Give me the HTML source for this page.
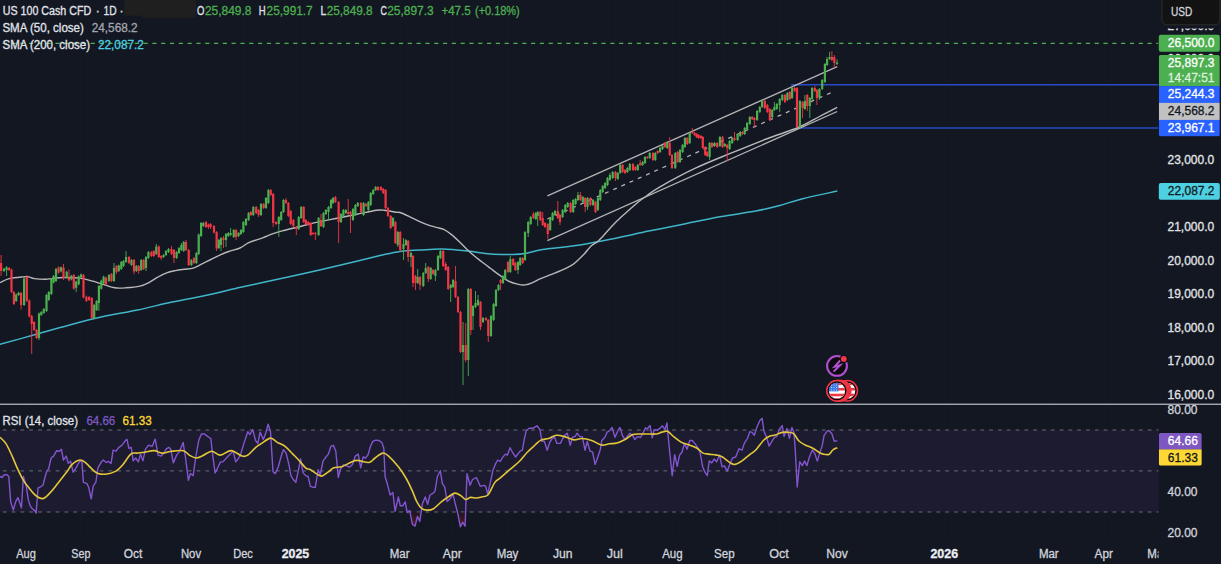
<!DOCTYPE html><html><head><meta charset="utf-8"><style>
html,body{margin:0;padding:0;background:#131722;width:1221px;height:564px;overflow:hidden;}
svg{display:block;font-family:"Liberation Sans",sans-serif;}
</style></head><body>
<svg width="1221" height="564" viewBox="0 0 1221 564">
<rect x="0" y="0" width="1221" height="564" fill="#131722"/>
<line x1="26.5" y1="0" x2="26.5" y2="540" stroke="#151924" stroke-width="1"/>
<line x1="80.5" y1="0" x2="80.5" y2="540" stroke="#151924" stroke-width="1"/>
<line x1="134.5" y1="0" x2="134.5" y2="540" stroke="#151924" stroke-width="1"/>
<line x1="190.5" y1="0" x2="190.5" y2="540" stroke="#151924" stroke-width="1"/>
<line x1="244.5" y1="0" x2="244.5" y2="540" stroke="#151924" stroke-width="1"/>
<line x1="296.5" y1="0" x2="296.5" y2="540" stroke="#151924" stroke-width="1"/>
<line x1="400.5" y1="0" x2="400.5" y2="540" stroke="#151924" stroke-width="1"/>
<line x1="452.5" y1="0" x2="452.5" y2="540" stroke="#151924" stroke-width="1"/>
<line x1="507.5" y1="0" x2="507.5" y2="540" stroke="#151924" stroke-width="1"/>
<line x1="561.5" y1="0" x2="561.5" y2="540" stroke="#151924" stroke-width="1"/>
<line x1="615.5" y1="0" x2="615.5" y2="540" stroke="#151924" stroke-width="1"/>
<line x1="672.5" y1="0" x2="672.5" y2="540" stroke="#151924" stroke-width="1"/>
<line x1="724.5" y1="0" x2="724.5" y2="540" stroke="#151924" stroke-width="1"/>
<line x1="779.5" y1="0" x2="779.5" y2="540" stroke="#151924" stroke-width="1"/>
<line x1="837.5" y1="0" x2="837.5" y2="540" stroke="#151924" stroke-width="1"/>
<line x1="944.5" y1="0" x2="944.5" y2="540" stroke="#151924" stroke-width="1"/>
<line x1="1049.5" y1="0" x2="1049.5" y2="540" stroke="#151924" stroke-width="1"/>
<line x1="1104.5" y1="0" x2="1104.5" y2="540" stroke="#151924" stroke-width="1"/>
<rect x="0" y="430" width="1158.5" height="82" fill="#1c1b2f"/>
<line x1="0" y1="430" x2="1158.5" y2="430" stroke="#6a6d78" stroke-width="1" stroke-dasharray="3.8 5.007" stroke-dashoffset="6"/>
<line x1="0" y1="470.9" x2="1158.5" y2="470.9" stroke="#6a6d78" stroke-width="1" stroke-dasharray="3.8 5.007" stroke-dashoffset="6"/>
<line x1="0" y1="512" x2="1158.5" y2="512" stroke="#6a6d78" stroke-width="1" stroke-dasharray="3.8 5.007" stroke-dashoffset="6"/>
<defs><clipPath id="mc"><rect x="0" y="0" width="1158.5" height="404"/></clipPath>
<clipPath id="rc"><rect x="0" y="405" width="1158.5" height="135"/></clipPath></defs>
<g clip-path="url(#mc)">
<line x1="0" y1="43.3" x2="1158.5" y2="43.3" stroke="#4caf50" stroke-width="1.2" stroke-dasharray="4.2 4.607" stroke-dashoffset="6.2"/>
<line x1="791" y1="84.8" x2="1158.5" y2="84.8" stroke="#2a4ac6" stroke-width="1.5"/>
<line x1="797" y1="127.9" x2="1158.5" y2="127.9" stroke="#2a4ac6" stroke-width="1.5"/>
<path d="M0,344.4 C5.73,342.8 22.93,338 34.4,334.8 C45.87,331.6 57.33,328.23 68.8,325.2 C80.27,322.17 91.73,319.13 103.2,316.6 C114.67,314.07 126.13,312.42 137.6,310 C149.07,307.58 160.53,304.57 172,302.1 C183.47,299.63 194.93,297.67 206.4,295.2 C217.87,292.73 229.33,289.87 240.8,287.3 C252.27,284.73 263.73,282.32 275.2,279.8 C286.67,277.28 298.13,274.78 309.6,272.2 C321.07,269.62 332.27,267.07 344,264.3 C355.73,261.53 370.67,257.75 380,255.6 C389.33,253.45 393.33,252.33 400,251.4 C406.67,250.47 412.97,250.4 420,250 C427.03,249.6 434.23,248.83 442.2,249 C450.17,249.17 459.77,250.17 467.8,251 C475.83,251.83 482.87,253.43 490.4,254 C497.93,254.57 507.22,254.48 513,254.4 C518.78,254.32 520.6,254.25 525.1,253.5 C529.6,252.75 535.8,250.72 540,249.9 C544.2,249.08 543.63,249.42 550.3,248.6 C556.97,247.78 569.32,246.68 580,245 C590.68,243.32 602.93,240.82 614.4,238.5 C625.87,236.18 637.33,233.48 648.8,231.1 C660.27,228.72 671.33,226.6 683.2,224.2 C695.07,221.8 707.88,218.9 720,216.7 C732.12,214.5 746.1,212.82 755.9,211 C765.7,209.18 771.17,207.82 778.8,205.8 C786.43,203.78 791.95,201.35 801.7,198.9 C811.45,196.45 831.37,192.4 837.3,191.1" fill="none" stroke="#3fb6c9" stroke-width="1.5"/>
<path d="M0,282.6 C1.53,281.93 5.38,279.55 9.2,278.6 C13.02,277.65 19.65,277.18 22.9,276.9 C26.15,276.62 26.78,276.62 28.7,276.9 C30.62,277.18 31.53,278.22 34.4,278.6 C37.27,278.98 43.03,279.2 45.9,279.2 C48.77,279.2 48.73,278.88 51.6,278.6 C54.47,278.32 58.32,277.58 63.1,277.5 C67.88,277.42 75.53,277.53 80.3,278.1 C85.07,278.67 87.88,279.85 91.7,280.9 C95.52,281.95 99.37,283.25 103.2,284.4 C107.03,285.55 110.88,287.23 114.7,287.8 C118.52,288.37 121.88,288.08 126.1,287.8 C130.32,287.52 136.2,286.97 140,286.1 C143.8,285.23 145.95,284.08 148.9,282.6 C151.85,281.12 154.75,278.83 157.7,277.2 C160.65,275.57 163.63,273.9 166.6,272.8 C169.57,271.7 172.55,271.18 175.5,270.6 C178.45,270.02 181.35,269.7 184.3,269.3 C187.25,268.9 190.23,269.1 193.2,268.2 C196.17,267.3 199.15,265.35 202.1,263.9 C205.05,262.45 207.95,260.97 210.9,259.5 C213.85,258.03 216.83,256.43 219.8,255.1 C222.77,253.77 225.33,252.68 228.7,251.5 C232.07,250.32 236.65,249.47 240,248 C243.35,246.53 245.03,244.4 248.8,242.7 C252.57,241 258.67,239.27 262.6,237.8 C266.53,236.33 269.13,235.05 272.4,233.9 C275.67,232.75 277.95,232.05 282.2,230.9 C286.45,229.75 292,228.47 297.9,227 C303.8,225.53 311.03,223.57 317.6,222.1 C324.17,220.63 330.75,219.52 337.3,218.2 C343.85,216.88 350.35,215.52 356.9,214.2 C363.45,212.88 372.02,210.95 376.6,210.3 C381.18,209.65 381.13,209.97 384.4,210.3 C387.67,210.63 393.6,211.93 396.2,212.3 C398.8,212.67 397.87,211.83 400,212.5 C402.13,213.17 405.98,214.92 409,216.3 C412.02,217.68 415.08,219.42 418.1,220.8 C421.12,222.18 424.08,223.52 427.1,224.6 C430.12,225.68 433.43,226.5 436.2,227.3 C438.97,228.1 441.2,228.22 443.7,229.4 C446.2,230.58 448.68,232.43 451.2,234.4 C453.72,236.37 456.28,238.82 458.8,241.2 C461.32,243.58 463.8,246.32 466.3,248.7 C468.8,251.08 471.28,253.37 473.8,255.5 C476.32,257.63 478.63,259.37 481.4,261.5 C484.17,263.63 487.38,266.03 490.4,268.3 C493.42,270.57 496.48,272.97 499.5,275.1 C502.52,277.23 505.5,279.6 508.5,281.1 C511.5,282.6 514.73,283.47 517.5,284.1 C520.27,284.73 522.58,285.15 525.1,284.9 C527.62,284.65 530.12,283.62 532.6,282.6 C535.08,281.58 537,280.12 540,278.8 C543,277.48 547.05,276.1 550.6,274.7 C554.15,273.3 557.75,272 561.3,270.4 C564.85,268.8 569.07,266.87 571.9,265.1 C574.73,263.33 576.17,261.75 578.3,259.8 C580.43,257.85 582.57,255.7 584.7,253.4 C586.83,251.1 588.98,247.95 591.1,246 C593.22,244.05 595.28,243.48 597.4,241.7 C599.52,239.92 601.32,237.97 603.8,235.3 C606.28,232.63 609.45,228.72 612.3,225.7 C615.15,222.68 618.05,219.85 620.9,217.2 C623.75,214.55 626.57,212.28 629.4,209.8 C632.23,207.32 635.07,204.6 637.9,202.3 C640.73,200 642.72,198.58 646.4,196 C650.08,193.42 651.83,191.43 660,186.8 C668.17,182.17 683.58,173.8 695.4,168.2 C707.22,162.6 719.08,158.07 730.9,153.2 C742.72,148.33 755.08,143.28 766.3,139 C777.52,134.72 789.33,131.25 798.2,127.5 C807.07,123.75 813,119.85 819.5,116.5 C826,113.15 834.25,108.92 837.2,107.4" fill="none" stroke="#b8b8b8" stroke-width="1.4"/>
<line x1="547.4" y1="195.8" x2="837.2" y2="66.69" stroke="#b4b4b4" stroke-width="1.3"/>
<line x1="547.4" y1="219" x2="833.5" y2="91.54" stroke="#b4b4b4" stroke-width="1.3" stroke-dasharray="4 5"/>
<line x1="547.4" y1="240.6" x2="837.2" y2="111.49" stroke="#b4b4b4" stroke-width="1.3"/>
<line x1="1.1" y1="255" x2="1.1" y2="276" stroke="#f23645" stroke-width="0.9"/>
<rect x="0" y="263" width="2.2" height="8" fill="#f23645"/>
<line x1="4" y1="267.7" x2="4" y2="272" stroke="#4caf50" stroke-width="0.9"/>
<rect x="2.9" y="268.7" width="2.2" height="2.3" fill="#4caf50"/>
<line x1="6.6" y1="266" x2="6.6" y2="276" stroke="#4caf50" stroke-width="0.9"/>
<rect x="5.5" y="267.4" width="2.2" height="2.6" fill="#4caf50"/>
<line x1="9.1" y1="267" x2="9.1" y2="271" stroke="#f23645" stroke-width="0.9"/>
<rect x="8" y="268" width="2.2" height="2" fill="#f23645"/>
<line x1="11.5" y1="268.6" x2="11.5" y2="293" stroke="#f23645" stroke-width="0.9"/>
<rect x="10.4" y="269.6" width="2.2" height="22.4" fill="#f23645"/>
<line x1="13.9" y1="291" x2="13.9" y2="305" stroke="#f23645" stroke-width="0.9"/>
<rect x="12.8" y="292" width="2.2" height="12" fill="#f23645"/>
<line x1="16.2" y1="293.5" x2="16.2" y2="302" stroke="#4caf50" stroke-width="0.9"/>
<rect x="15.1" y="294.5" width="2.2" height="6.5" fill="#4caf50"/>
<line x1="18.6" y1="291.7" x2="18.6" y2="296" stroke="#4caf50" stroke-width="0.9"/>
<rect x="17.5" y="292.7" width="2.2" height="2.3" fill="#4caf50"/>
<line x1="21.1" y1="292" x2="21.1" y2="309.5" stroke="#f23645" stroke-width="0.9"/>
<rect x="20" y="293" width="2.2" height="12" fill="#f23645"/>
<line x1="24.1" y1="277.5" x2="24.1" y2="306" stroke="#4caf50" stroke-width="0.9"/>
<rect x="23" y="278.5" width="2.2" height="26.5" fill="#4caf50"/>
<line x1="26.8" y1="275" x2="26.8" y2="302" stroke="#f23645" stroke-width="0.9"/>
<rect x="25.7" y="277" width="2.2" height="24" fill="#f23645"/>
<line x1="29.3" y1="299.5" x2="29.3" y2="317.5" stroke="#f23645" stroke-width="0.9"/>
<rect x="28.2" y="300.5" width="2.2" height="16" fill="#f23645"/>
<line x1="31.7" y1="315" x2="31.7" y2="354" stroke="#f23645" stroke-width="0.9"/>
<rect x="30.6" y="316" width="2.2" height="8" fill="#f23645"/>
<line x1="34.1" y1="321" x2="34.1" y2="331" stroke="#f23645" stroke-width="0.9"/>
<rect x="33" y="322" width="2.2" height="8" fill="#f23645"/>
<line x1="36.6" y1="329" x2="36.6" y2="339" stroke="#f23645" stroke-width="0.9"/>
<rect x="35.5" y="330" width="2.2" height="8" fill="#f23645"/>
<line x1="39" y1="312.5" x2="39" y2="340" stroke="#4caf50" stroke-width="0.9"/>
<rect x="37.9" y="313.5" width="2.2" height="24.5" fill="#4caf50"/>
<line x1="41.3" y1="311" x2="41.3" y2="316" stroke="#4caf50" stroke-width="0.9"/>
<rect x="40.2" y="312" width="2.2" height="3" fill="#4caf50"/>
<line x1="43.8" y1="308" x2="43.8" y2="314" stroke="#4caf50" stroke-width="0.9"/>
<rect x="42.7" y="309" width="2.2" height="4" fill="#4caf50"/>
<line x1="46.5" y1="294" x2="46.5" y2="312" stroke="#4caf50" stroke-width="0.9"/>
<rect x="45.4" y="295" width="2.2" height="16" fill="#4caf50"/>
<line x1="48.8" y1="291" x2="48.8" y2="301" stroke="#4caf50" stroke-width="0.9"/>
<rect x="47.7" y="292" width="2.2" height="8" fill="#4caf50"/>
<line x1="51.4" y1="278" x2="51.4" y2="295" stroke="#4caf50" stroke-width="0.9"/>
<rect x="50.3" y="279" width="2.2" height="15" fill="#4caf50"/>
<line x1="53.6" y1="275" x2="53.6" y2="283.5" stroke="#4caf50" stroke-width="0.9"/>
<rect x="52.5" y="276" width="2.2" height="6.5" fill="#4caf50"/>
<line x1="56" y1="268" x2="56" y2="282" stroke="#4caf50" stroke-width="0.9"/>
<rect x="54.9" y="269" width="2.2" height="12" fill="#4caf50"/>
<line x1="58.5" y1="266.4" x2="58.5" y2="273.7" stroke="#f23645" stroke-width="0.9"/>
<rect x="57.4" y="267.4" width="2.2" height="5.3" fill="#f23645"/>
<line x1="61" y1="266.4" x2="61" y2="272.4" stroke="#4caf50" stroke-width="0.9"/>
<rect x="59.9" y="267.4" width="2.2" height="4" fill="#4caf50"/>
<line x1="63.5" y1="264" x2="63.5" y2="280" stroke="#f23645" stroke-width="0.9"/>
<rect x="62.4" y="267.4" width="2.2" height="10.6" fill="#f23645"/>
<line x1="66.7" y1="270.8" x2="66.7" y2="278.6" stroke="#4caf50" stroke-width="0.9"/>
<rect x="65.6" y="271.8" width="2.2" height="5.8" fill="#4caf50"/>
<line x1="69" y1="269.5" x2="69" y2="281.3" stroke="#f23645" stroke-width="0.9"/>
<rect x="67.9" y="277.6" width="2.2" height="2.7" fill="#f23645"/>
<line x1="71.4" y1="274.8" x2="71.4" y2="280.4" stroke="#4caf50" stroke-width="0.9"/>
<rect x="70.3" y="275.8" width="2.2" height="3.6" fill="#4caf50"/>
<line x1="73.8" y1="274" x2="73.8" y2="289.7" stroke="#f23645" stroke-width="0.9"/>
<rect x="72.7" y="275" width="2.2" height="13.7" fill="#f23645"/>
<line x1="76.2" y1="280.6" x2="76.2" y2="292" stroke="#4caf50" stroke-width="0.9"/>
<rect x="75.1" y="281.6" width="2.2" height="6.2" fill="#4caf50"/>
<line x1="78.7" y1="275.3" x2="78.7" y2="285.3" stroke="#4caf50" stroke-width="0.9"/>
<rect x="77.6" y="276.3" width="2.2" height="8" fill="#4caf50"/>
<line x1="81.1" y1="273.5" x2="81.1" y2="278" stroke="#4caf50" stroke-width="0.9"/>
<rect x="80" y="274.5" width="2.2" height="2.5" fill="#4caf50"/>
<line x1="83.5" y1="274" x2="83.5" y2="298.5" stroke="#f23645" stroke-width="0.9"/>
<rect x="82.4" y="275" width="2.2" height="22.5" fill="#f23645"/>
<line x1="86.4" y1="295.7" x2="86.4" y2="302" stroke="#f23645" stroke-width="0.9"/>
<rect x="85.3" y="296.7" width="2.2" height="4.3" fill="#f23645"/>
<line x1="89.1" y1="296" x2="89.1" y2="301" stroke="#f23645" stroke-width="0.9"/>
<rect x="88" y="297" width="2.2" height="3" fill="#f23645"/>
<line x1="91.8" y1="297" x2="91.8" y2="319" stroke="#f23645" stroke-width="0.9"/>
<rect x="90.7" y="298" width="2.2" height="20" fill="#f23645"/>
<line x1="94.2" y1="304" x2="94.2" y2="319" stroke="#4caf50" stroke-width="0.9"/>
<rect x="93.1" y="305" width="2.2" height="13" fill="#4caf50"/>
<line x1="96.6" y1="300" x2="96.6" y2="311" stroke="#4caf50" stroke-width="0.9"/>
<rect x="95.5" y="301" width="2.2" height="9" fill="#4caf50"/>
<line x1="98.9" y1="285" x2="98.9" y2="311" stroke="#4caf50" stroke-width="0.9"/>
<rect x="97.8" y="286" width="2.2" height="17" fill="#4caf50"/>
<line x1="101.3" y1="279.7" x2="101.3" y2="289.7" stroke="#4caf50" stroke-width="0.9"/>
<rect x="100.2" y="280.7" width="2.2" height="8" fill="#4caf50"/>
<line x1="103.6" y1="275.7" x2="103.6" y2="284.4" stroke="#4caf50" stroke-width="0.9"/>
<rect x="102.5" y="276.7" width="2.2" height="6.7" fill="#4caf50"/>
<line x1="106" y1="276.6" x2="106" y2="285.3" stroke="#f23645" stroke-width="0.9"/>
<rect x="104.9" y="277.6" width="2.2" height="6.7" fill="#f23645"/>
<line x1="109" y1="274" x2="109" y2="282" stroke="#4caf50" stroke-width="0.9"/>
<rect x="107.9" y="275" width="2.2" height="6" fill="#4caf50"/>
<line x1="111.5" y1="273" x2="111.5" y2="282" stroke="#f23645" stroke-width="0.9"/>
<rect x="110.4" y="274" width="2.2" height="7" fill="#f23645"/>
<line x1="114" y1="263" x2="114" y2="282" stroke="#4caf50" stroke-width="0.9"/>
<rect x="112.9" y="268" width="2.2" height="13" fill="#4caf50"/>
<line x1="116.5" y1="265" x2="116.5" y2="274" stroke="#f23645" stroke-width="0.9"/>
<rect x="115.4" y="266" width="2.2" height="6" fill="#f23645"/>
<line x1="118.8" y1="264.5" x2="118.8" y2="272" stroke="#4caf50" stroke-width="0.9"/>
<rect x="117.7" y="265.5" width="2.2" height="5.5" fill="#4caf50"/>
<line x1="121.3" y1="261" x2="121.3" y2="270" stroke="#4caf50" stroke-width="0.9"/>
<rect x="120.2" y="262" width="2.2" height="7" fill="#4caf50"/>
<line x1="123.5" y1="260" x2="123.5" y2="267" stroke="#4caf50" stroke-width="0.9"/>
<rect x="122.4" y="261" width="2.2" height="5" fill="#4caf50"/>
<line x1="126" y1="251" x2="126" y2="263" stroke="#4caf50" stroke-width="0.9"/>
<rect x="124.9" y="257" width="2.2" height="5" fill="#4caf50"/>
<line x1="129" y1="256" x2="129" y2="264" stroke="#f23645" stroke-width="0.9"/>
<rect x="127.9" y="257" width="2.2" height="6" fill="#f23645"/>
<line x1="131.5" y1="259" x2="131.5" y2="266" stroke="#4caf50" stroke-width="0.9"/>
<rect x="130.4" y="260" width="2.2" height="5" fill="#4caf50"/>
<line x1="134" y1="259" x2="134" y2="274" stroke="#f23645" stroke-width="0.9"/>
<rect x="132.9" y="260" width="2.2" height="11.5" fill="#f23645"/>
<line x1="136.4" y1="265" x2="136.4" y2="272" stroke="#4caf50" stroke-width="0.9"/>
<rect x="135.3" y="266" width="2.2" height="5" fill="#4caf50"/>
<line x1="138.7" y1="265" x2="138.7" y2="274" stroke="#f23645" stroke-width="0.9"/>
<rect x="137.6" y="266" width="2.2" height="5" fill="#f23645"/>
<line x1="141.2" y1="259" x2="141.2" y2="271" stroke="#4caf50" stroke-width="0.9"/>
<rect x="140.1" y="260" width="2.2" height="10" fill="#4caf50"/>
<line x1="143.6" y1="259" x2="143.6" y2="270" stroke="#f23645" stroke-width="0.9"/>
<rect x="142.5" y="260" width="2.2" height="9" fill="#f23645"/>
<line x1="146" y1="256" x2="146" y2="271" stroke="#4caf50" stroke-width="0.9"/>
<rect x="144.9" y="257" width="2.2" height="11" fill="#4caf50"/>
<line x1="148.4" y1="251" x2="148.4" y2="259" stroke="#4caf50" stroke-width="0.9"/>
<rect x="147.3" y="252" width="2.2" height="6" fill="#4caf50"/>
<line x1="151.4" y1="251" x2="151.4" y2="257" stroke="#f23645" stroke-width="0.9"/>
<rect x="150.3" y="252" width="2.2" height="4" fill="#f23645"/>
<line x1="153.8" y1="250" x2="153.8" y2="257" stroke="#f23645" stroke-width="0.9"/>
<rect x="152.7" y="251" width="2.2" height="5" fill="#f23645"/>
<line x1="156.3" y1="244" x2="156.3" y2="255" stroke="#4caf50" stroke-width="0.9"/>
<rect x="155.2" y="246.5" width="2.2" height="7.5" fill="#4caf50"/>
<line x1="158.8" y1="245.5" x2="158.8" y2="258" stroke="#f23645" stroke-width="0.9"/>
<rect x="157.7" y="246.5" width="2.2" height="10.5" fill="#f23645"/>
<line x1="161.2" y1="255" x2="161.2" y2="260" stroke="#f23645" stroke-width="0.9"/>
<rect x="160.1" y="256" width="2.2" height="2" fill="#f23645"/>
<line x1="163.6" y1="254" x2="163.6" y2="258" stroke="#4caf50" stroke-width="0.9"/>
<rect x="162.5" y="255" width="2.2" height="2" fill="#4caf50"/>
<line x1="166" y1="250" x2="166" y2="256" stroke="#4caf50" stroke-width="0.9"/>
<rect x="164.9" y="251" width="2.2" height="4" fill="#4caf50"/>
<line x1="168.5" y1="248" x2="168.5" y2="253" stroke="#4caf50" stroke-width="0.9"/>
<rect x="167.4" y="249" width="2.2" height="3" fill="#4caf50"/>
<line x1="171.5" y1="246" x2="171.5" y2="255" stroke="#f23645" stroke-width="0.9"/>
<rect x="170.4" y="249" width="2.2" height="5" fill="#f23645"/>
<line x1="174" y1="249" x2="174" y2="263" stroke="#f23645" stroke-width="0.9"/>
<rect x="172.9" y="250" width="2.2" height="8" fill="#f23645"/>
<line x1="176.6" y1="251" x2="176.6" y2="259" stroke="#4caf50" stroke-width="0.9"/>
<rect x="175.5" y="252" width="2.2" height="6" fill="#4caf50"/>
<line x1="179" y1="247" x2="179" y2="254" stroke="#4caf50" stroke-width="0.9"/>
<rect x="177.9" y="248" width="2.2" height="5" fill="#4caf50"/>
<line x1="181.4" y1="243" x2="181.4" y2="251" stroke="#4caf50" stroke-width="0.9"/>
<rect x="180.3" y="245" width="2.2" height="5" fill="#4caf50"/>
<line x1="183.7" y1="241" x2="183.7" y2="252" stroke="#4caf50" stroke-width="0.9"/>
<rect x="182.6" y="242" width="2.2" height="9" fill="#4caf50"/>
<line x1="186" y1="240" x2="186" y2="251" stroke="#f23645" stroke-width="0.9"/>
<rect x="184.9" y="242" width="2.2" height="8" fill="#f23645"/>
<line x1="188.7" y1="249" x2="188.7" y2="266" stroke="#f23645" stroke-width="0.9"/>
<rect x="187.6" y="250" width="2.2" height="15" fill="#f23645"/>
<line x1="191.4" y1="259" x2="191.4" y2="266" stroke="#4caf50" stroke-width="0.9"/>
<rect x="190.3" y="260" width="2.2" height="5" fill="#4caf50"/>
<line x1="194" y1="257" x2="194" y2="264" stroke="#f23645" stroke-width="0.9"/>
<rect x="192.9" y="258" width="2.2" height="5" fill="#f23645"/>
<line x1="196.4" y1="252" x2="196.4" y2="264" stroke="#4caf50" stroke-width="0.9"/>
<rect x="195.3" y="253" width="2.2" height="10" fill="#4caf50"/>
<line x1="198.7" y1="233.5" x2="198.7" y2="255" stroke="#4caf50" stroke-width="0.9"/>
<rect x="197.6" y="234.5" width="2.2" height="19.5" fill="#4caf50"/>
<line x1="201.1" y1="222" x2="201.1" y2="237" stroke="#4caf50" stroke-width="0.9"/>
<rect x="200" y="223" width="2.2" height="13" fill="#4caf50"/>
<line x1="203.3" y1="222" x2="203.3" y2="227" stroke="#4caf50" stroke-width="0.9"/>
<rect x="202.2" y="223" width="2.2" height="3" fill="#4caf50"/>
<line x1="206" y1="221" x2="206" y2="228" stroke="#f23645" stroke-width="0.9"/>
<rect x="204.9" y="222" width="2.2" height="5" fill="#f23645"/>
<line x1="208.4" y1="223.5" x2="208.4" y2="229" stroke="#f23645" stroke-width="0.9"/>
<rect x="207.3" y="224.5" width="2.2" height="2.5" fill="#f23645"/>
<line x1="210.6" y1="223" x2="210.6" y2="229" stroke="#f23645" stroke-width="0.9"/>
<rect x="209.5" y="224" width="2.2" height="3" fill="#f23645"/>
<line x1="214" y1="225" x2="214" y2="233.5" stroke="#f23645" stroke-width="0.9"/>
<rect x="212.9" y="226" width="2.2" height="6.5" fill="#f23645"/>
<line x1="216.6" y1="231" x2="216.6" y2="251" stroke="#f23645" stroke-width="0.9"/>
<rect x="215.5" y="232" width="2.2" height="16.5" fill="#f23645"/>
<line x1="218.8" y1="239" x2="218.8" y2="249" stroke="#4caf50" stroke-width="0.9"/>
<rect x="217.7" y="240" width="2.2" height="8" fill="#4caf50"/>
<line x1="221" y1="237" x2="221" y2="251" stroke="#4caf50" stroke-width="0.9"/>
<rect x="219.9" y="238" width="2.2" height="7" fill="#4caf50"/>
<line x1="223.5" y1="236" x2="223.5" y2="248" stroke="#f23645" stroke-width="0.9"/>
<rect x="222.4" y="238" width="2.2" height="2" fill="#f23645"/>
<line x1="226" y1="233" x2="226" y2="247" stroke="#4caf50" stroke-width="0.9"/>
<rect x="224.9" y="234" width="2.2" height="6" fill="#4caf50"/>
<line x1="228.3" y1="232" x2="228.3" y2="237" stroke="#4caf50" stroke-width="0.9"/>
<rect x="227.2" y="233" width="2.2" height="3" fill="#4caf50"/>
<line x1="230.6" y1="228" x2="230.6" y2="236" stroke="#4caf50" stroke-width="0.9"/>
<rect x="229.5" y="233" width="2.2" height="2" fill="#4caf50"/>
<line x1="233.7" y1="229" x2="233.7" y2="238" stroke="#4caf50" stroke-width="0.9"/>
<rect x="232.6" y="230" width="2.2" height="7" fill="#4caf50"/>
<line x1="236.1" y1="229" x2="236.1" y2="240" stroke="#f23645" stroke-width="0.9"/>
<rect x="235" y="230" width="2.2" height="7" fill="#f23645"/>
<line x1="238.6" y1="232" x2="238.6" y2="237" stroke="#4caf50" stroke-width="0.9"/>
<rect x="237.5" y="233" width="2.2" height="3" fill="#4caf50"/>
<line x1="241" y1="229" x2="241" y2="235" stroke="#4caf50" stroke-width="0.9"/>
<rect x="239.9" y="230" width="2.2" height="4" fill="#4caf50"/>
<line x1="243.4" y1="221" x2="243.4" y2="233" stroke="#4caf50" stroke-width="0.9"/>
<rect x="242.3" y="222" width="2.2" height="10" fill="#4caf50"/>
<line x1="246" y1="218" x2="246" y2="226" stroke="#4caf50" stroke-width="0.9"/>
<rect x="244.9" y="219" width="2.2" height="6" fill="#4caf50"/>
<line x1="248.6" y1="212" x2="248.6" y2="221" stroke="#4caf50" stroke-width="0.9"/>
<rect x="247.5" y="213" width="2.2" height="7" fill="#4caf50"/>
<line x1="250.9" y1="211" x2="250.9" y2="216" stroke="#f23645" stroke-width="0.9"/>
<rect x="249.8" y="212" width="2.2" height="3" fill="#f23645"/>
<line x1="253.3" y1="206" x2="253.3" y2="216" stroke="#4caf50" stroke-width="0.9"/>
<rect x="252.2" y="207" width="2.2" height="8" fill="#4caf50"/>
<line x1="256.2" y1="206" x2="256.2" y2="214" stroke="#f23645" stroke-width="0.9"/>
<rect x="255.1" y="207" width="2.2" height="6" fill="#f23645"/>
<line x1="258.6" y1="209" x2="258.6" y2="217" stroke="#f23645" stroke-width="0.9"/>
<rect x="257.5" y="210" width="2.2" height="5" fill="#f23645"/>
<line x1="261" y1="203" x2="261" y2="216" stroke="#4caf50" stroke-width="0.9"/>
<rect x="259.9" y="204" width="2.2" height="11" fill="#4caf50"/>
<line x1="263.6" y1="203" x2="263.6" y2="209" stroke="#f23645" stroke-width="0.9"/>
<rect x="262.5" y="204" width="2.2" height="4" fill="#f23645"/>
<line x1="266" y1="197" x2="266" y2="209" stroke="#4caf50" stroke-width="0.9"/>
<rect x="264.9" y="198" width="2.2" height="10" fill="#4caf50"/>
<line x1="268.4" y1="189" x2="268.4" y2="204" stroke="#4caf50" stroke-width="0.9"/>
<rect x="267.3" y="190" width="2.2" height="13" fill="#4caf50"/>
<line x1="270.7" y1="189" x2="270.7" y2="196" stroke="#f23645" stroke-width="0.9"/>
<rect x="269.6" y="190" width="2.2" height="5" fill="#f23645"/>
<line x1="273.2" y1="193" x2="273.2" y2="227" stroke="#f23645" stroke-width="0.9"/>
<rect x="272.1" y="194" width="2.2" height="29" fill="#f23645"/>
<line x1="276.1" y1="221" x2="276.1" y2="225" stroke="#f23645" stroke-width="0.9"/>
<rect x="275" y="222" width="2.2" height="2" fill="#f23645"/>
<line x1="278.8" y1="216" x2="278.8" y2="236.8" stroke="#4caf50" stroke-width="0.9"/>
<rect x="277.7" y="217" width="2.2" height="7" fill="#4caf50"/>
<line x1="281.2" y1="211" x2="281.2" y2="221" stroke="#4caf50" stroke-width="0.9"/>
<rect x="280.1" y="212" width="2.2" height="8" fill="#4caf50"/>
<line x1="283.5" y1="199" x2="283.5" y2="213" stroke="#4caf50" stroke-width="0.9"/>
<rect x="282.4" y="200" width="2.2" height="12" fill="#4caf50"/>
<line x1="286" y1="198" x2="286" y2="204" stroke="#f23645" stroke-width="0.9"/>
<rect x="284.9" y="200" width="2.2" height="3" fill="#f23645"/>
<line x1="288.4" y1="202" x2="288.4" y2="217" stroke="#f23645" stroke-width="0.9"/>
<rect x="287.3" y="203" width="2.2" height="13" fill="#f23645"/>
<line x1="290.7" y1="210" x2="290.7" y2="225" stroke="#f23645" stroke-width="0.9"/>
<rect x="289.6" y="211" width="2.2" height="13" fill="#f23645"/>
<line x1="293.4" y1="219" x2="293.4" y2="227" stroke="#f23645" stroke-width="0.9"/>
<rect x="292.3" y="220" width="2.2" height="6" fill="#f23645"/>
<line x1="296.3" y1="226" x2="296.3" y2="235" stroke="#f23645" stroke-width="0.9"/>
<rect x="295.2" y="227" width="2.2" height="2" fill="#f23645"/>
<line x1="298.7" y1="216" x2="298.7" y2="230" stroke="#4caf50" stroke-width="0.9"/>
<rect x="297.6" y="217" width="2.2" height="12" fill="#4caf50"/>
<line x1="301.2" y1="206" x2="301.2" y2="219" stroke="#4caf50" stroke-width="0.9"/>
<rect x="300.1" y="207" width="2.2" height="11" fill="#4caf50"/>
<line x1="303.7" y1="206" x2="303.7" y2="223" stroke="#f23645" stroke-width="0.9"/>
<rect x="302.6" y="207" width="2.2" height="15" fill="#f23645"/>
<line x1="305.9" y1="219" x2="305.9" y2="225" stroke="#f23645" stroke-width="0.9"/>
<rect x="304.8" y="220" width="2.2" height="4" fill="#f23645"/>
<line x1="308.3" y1="221" x2="308.3" y2="226" stroke="#f23645" stroke-width="0.9"/>
<rect x="307.2" y="222" width="2.2" height="3" fill="#f23645"/>
<line x1="310.7" y1="222" x2="310.7" y2="236" stroke="#f23645" stroke-width="0.9"/>
<rect x="309.6" y="223" width="2.2" height="12" fill="#f23645"/>
<line x1="313" y1="232" x2="313" y2="235" stroke="#f23645" stroke-width="0.9"/>
<rect x="311.9" y="233" width="2.2" height="1" fill="#f23645"/>
<line x1="315.4" y1="232" x2="315.4" y2="240" stroke="#f23645" stroke-width="0.9"/>
<rect x="314.3" y="233" width="2.2" height="1" fill="#f23645"/>
<line x1="318.6" y1="217" x2="318.6" y2="236" stroke="#4caf50" stroke-width="0.9"/>
<rect x="317.5" y="218" width="2.2" height="17" fill="#4caf50"/>
<line x1="321" y1="214" x2="321" y2="227" stroke="#f23645" stroke-width="0.9"/>
<rect x="319.9" y="220" width="2.2" height="6" fill="#f23645"/>
<line x1="323.5" y1="212" x2="323.5" y2="228" stroke="#4caf50" stroke-width="0.9"/>
<rect x="322.4" y="213" width="2.2" height="14" fill="#4caf50"/>
<line x1="325.9" y1="209" x2="325.9" y2="215" stroke="#4caf50" stroke-width="0.9"/>
<rect x="324.8" y="210" width="2.2" height="4" fill="#4caf50"/>
<line x1="328.5" y1="206" x2="328.5" y2="220" stroke="#4caf50" stroke-width="0.9"/>
<rect x="327.4" y="207" width="2.2" height="5" fill="#4caf50"/>
<line x1="331" y1="199" x2="331" y2="209" stroke="#4caf50" stroke-width="0.9"/>
<rect x="329.9" y="200" width="2.2" height="8" fill="#4caf50"/>
<line x1="333" y1="197" x2="333" y2="204" stroke="#4caf50" stroke-width="0.9"/>
<rect x="331.9" y="198" width="2.2" height="5" fill="#4caf50"/>
<line x1="335.4" y1="196" x2="335.4" y2="203" stroke="#f23645" stroke-width="0.9"/>
<rect x="334.3" y="197" width="2.2" height="5" fill="#f23645"/>
<line x1="338.6" y1="201" x2="338.6" y2="243" stroke="#f23645" stroke-width="0.9"/>
<rect x="337.5" y="202" width="2.2" height="20" fill="#f23645"/>
<line x1="341" y1="213" x2="341" y2="223" stroke="#4caf50" stroke-width="0.9"/>
<rect x="339.9" y="214" width="2.2" height="8" fill="#4caf50"/>
<line x1="343.4" y1="209" x2="343.4" y2="217" stroke="#4caf50" stroke-width="0.9"/>
<rect x="342.3" y="210" width="2.2" height="6" fill="#4caf50"/>
<line x1="345.9" y1="209" x2="345.9" y2="214" stroke="#4caf50" stroke-width="0.9"/>
<rect x="344.8" y="210" width="2.2" height="3" fill="#4caf50"/>
<line x1="348.2" y1="199" x2="348.2" y2="215" stroke="#f23645" stroke-width="0.9"/>
<rect x="347.1" y="212" width="2.2" height="2" fill="#f23645"/>
<line x1="350.5" y1="211" x2="350.5" y2="233" stroke="#f23645" stroke-width="0.9"/>
<rect x="349.4" y="212" width="2.2" height="2" fill="#f23645"/>
<line x1="353" y1="208" x2="353" y2="221" stroke="#4caf50" stroke-width="0.9"/>
<rect x="351.9" y="209" width="2.2" height="11" fill="#4caf50"/>
<line x1="355.4" y1="204" x2="355.4" y2="216" stroke="#4caf50" stroke-width="0.9"/>
<rect x="354.3" y="205" width="2.2" height="10" fill="#4caf50"/>
<line x1="357.8" y1="202" x2="357.8" y2="207" stroke="#4caf50" stroke-width="0.9"/>
<rect x="356.7" y="203" width="2.2" height="3" fill="#4caf50"/>
<line x1="361" y1="202" x2="361" y2="213" stroke="#f23645" stroke-width="0.9"/>
<rect x="359.9" y="203" width="2.2" height="9" fill="#f23645"/>
<line x1="363.6" y1="202" x2="363.6" y2="216" stroke="#4caf50" stroke-width="0.9"/>
<rect x="362.5" y="203" width="2.2" height="12" fill="#4caf50"/>
<line x1="366" y1="203" x2="366" y2="207" stroke="#f23645" stroke-width="0.9"/>
<rect x="364.9" y="204" width="2.2" height="2" fill="#f23645"/>
<line x1="368.4" y1="201" x2="368.4" y2="211" stroke="#4caf50" stroke-width="0.9"/>
<rect x="367.3" y="202" width="2.2" height="8" fill="#4caf50"/>
<line x1="370.7" y1="192" x2="370.7" y2="206" stroke="#4caf50" stroke-width="0.9"/>
<rect x="369.6" y="193" width="2.2" height="12" fill="#4caf50"/>
<line x1="373.2" y1="189" x2="373.2" y2="195" stroke="#4caf50" stroke-width="0.9"/>
<rect x="372.1" y="190" width="2.2" height="4" fill="#4caf50"/>
<line x1="375.6" y1="186" x2="375.6" y2="191" stroke="#4caf50" stroke-width="0.9"/>
<rect x="374.5" y="187" width="2.2" height="3" fill="#4caf50"/>
<line x1="378" y1="186" x2="378" y2="191" stroke="#f23645" stroke-width="0.9"/>
<rect x="376.9" y="187" width="2.2" height="3" fill="#f23645"/>
<line x1="381" y1="186" x2="381" y2="191" stroke="#f23645" stroke-width="0.9"/>
<rect x="379.9" y="187" width="2.2" height="3" fill="#f23645"/>
<line x1="383.3" y1="188" x2="383.3" y2="194" stroke="#f23645" stroke-width="0.9"/>
<rect x="382.2" y="189" width="2.2" height="4" fill="#f23645"/>
<line x1="385.6" y1="189" x2="385.6" y2="209" stroke="#f23645" stroke-width="0.9"/>
<rect x="384.5" y="190" width="2.2" height="18" fill="#f23645"/>
<line x1="388" y1="207" x2="388" y2="217" stroke="#f23645" stroke-width="0.9"/>
<rect x="386.9" y="208" width="2.2" height="8" fill="#f23645"/>
<line x1="390.7" y1="215" x2="390.7" y2="229" stroke="#f23645" stroke-width="0.9"/>
<rect x="389.6" y="216" width="2.2" height="12" fill="#f23645"/>
<line x1="393" y1="217" x2="393" y2="227" stroke="#4caf50" stroke-width="0.9"/>
<rect x="391.9" y="218" width="2.2" height="8" fill="#4caf50"/>
<line x1="395.4" y1="221" x2="395.4" y2="244" stroke="#f23645" stroke-width="0.9"/>
<rect x="394.3" y="222" width="2.2" height="21" fill="#f23645"/>
<line x1="397.8" y1="231" x2="397.8" y2="247" stroke="#4caf50" stroke-width="0.9"/>
<rect x="396.7" y="232" width="2.2" height="13" fill="#4caf50"/>
<line x1="400.2" y1="231" x2="400.2" y2="252" stroke="#f23645" stroke-width="0.9"/>
<rect x="399.1" y="232" width="2.2" height="18" fill="#f23645"/>
<line x1="403.5" y1="238" x2="403.5" y2="260" stroke="#4caf50" stroke-width="0.9"/>
<rect x="402.4" y="244" width="2.2" height="5" fill="#4caf50"/>
<line x1="405.9" y1="239" x2="405.9" y2="246" stroke="#4caf50" stroke-width="0.9"/>
<rect x="404.8" y="240" width="2.2" height="5" fill="#4caf50"/>
<line x1="408.2" y1="240" x2="408.2" y2="262" stroke="#f23645" stroke-width="0.9"/>
<rect x="407.1" y="241" width="2.2" height="16" fill="#f23645"/>
<line x1="411" y1="252" x2="411" y2="267" stroke="#4caf50" stroke-width="0.9"/>
<rect x="409.9" y="253" width="2.2" height="4" fill="#4caf50"/>
<line x1="413" y1="255" x2="413" y2="287" stroke="#f23645" stroke-width="0.9"/>
<rect x="411.9" y="256" width="2.2" height="27" fill="#f23645"/>
<line x1="415.5" y1="275" x2="415.5" y2="290" stroke="#f23645" stroke-width="0.9"/>
<rect x="414.4" y="276" width="2.2" height="7" fill="#f23645"/>
<line x1="417.7" y1="269" x2="417.7" y2="284" stroke="#4caf50" stroke-width="0.9"/>
<rect x="416.6" y="277" width="2.2" height="6" fill="#4caf50"/>
<line x1="420" y1="276" x2="420" y2="290" stroke="#f23645" stroke-width="0.9"/>
<rect x="418.9" y="277" width="2.2" height="8" fill="#f23645"/>
<line x1="423.3" y1="272" x2="423.3" y2="287" stroke="#4caf50" stroke-width="0.9"/>
<rect x="422.2" y="273" width="2.2" height="13" fill="#4caf50"/>
<line x1="425.7" y1="263" x2="425.7" y2="274" stroke="#4caf50" stroke-width="0.9"/>
<rect x="424.6" y="268" width="2.2" height="5" fill="#4caf50"/>
<line x1="428.3" y1="266" x2="428.3" y2="282" stroke="#f23645" stroke-width="0.9"/>
<rect x="427.2" y="267" width="2.2" height="12" fill="#f23645"/>
<line x1="430.7" y1="267" x2="430.7" y2="280" stroke="#4caf50" stroke-width="0.9"/>
<rect x="429.6" y="268" width="2.2" height="11" fill="#4caf50"/>
<line x1="433" y1="269" x2="433" y2="275" stroke="#f23645" stroke-width="0.9"/>
<rect x="431.9" y="270" width="2.2" height="4" fill="#f23645"/>
<line x1="435.4" y1="269" x2="435.4" y2="281" stroke="#4caf50" stroke-width="0.9"/>
<rect x="434.3" y="270" width="2.2" height="6" fill="#4caf50"/>
<line x1="438" y1="255" x2="438" y2="271" stroke="#4caf50" stroke-width="0.9"/>
<rect x="436.9" y="256" width="2.2" height="14" fill="#4caf50"/>
<line x1="440.4" y1="250" x2="440.4" y2="259" stroke="#4caf50" stroke-width="0.9"/>
<rect x="439.3" y="251" width="2.2" height="7" fill="#4caf50"/>
<line x1="443.2" y1="250" x2="443.2" y2="267" stroke="#f23645" stroke-width="0.9"/>
<rect x="442.1" y="251" width="2.2" height="15" fill="#f23645"/>
<line x1="445.7" y1="262" x2="445.7" y2="271" stroke="#f23645" stroke-width="0.9"/>
<rect x="444.6" y="264" width="2.2" height="6" fill="#f23645"/>
<line x1="448.2" y1="266" x2="448.2" y2="290" stroke="#f23645" stroke-width="0.9"/>
<rect x="447.1" y="267" width="2.2" height="22" fill="#f23645"/>
<line x1="450.7" y1="284" x2="450.7" y2="302" stroke="#4caf50" stroke-width="0.9"/>
<rect x="449.6" y="285" width="2.2" height="3" fill="#4caf50"/>
<line x1="453.1" y1="279" x2="453.1" y2="288" stroke="#4caf50" stroke-width="0.9"/>
<rect x="452" y="280" width="2.2" height="7" fill="#4caf50"/>
<line x1="455.5" y1="266" x2="455.5" y2="298" stroke="#f23645" stroke-width="0.9"/>
<rect x="454.4" y="281" width="2.2" height="16" fill="#f23645"/>
<line x1="458" y1="296" x2="458" y2="313" stroke="#f23645" stroke-width="0.9"/>
<rect x="456.9" y="297" width="2.2" height="15" fill="#f23645"/>
<line x1="460.5" y1="311" x2="460.5" y2="353" stroke="#f23645" stroke-width="0.9"/>
<rect x="459.4" y="312" width="2.2" height="40" fill="#f23645"/>
<line x1="463" y1="322" x2="463" y2="385" stroke="#4caf50" stroke-width="0.9"/>
<rect x="461.9" y="345" width="2.2" height="7" fill="#4caf50"/>
<line x1="465.7" y1="323" x2="465.7" y2="362" stroke="#f23645" stroke-width="0.9"/>
<rect x="464.6" y="345" width="2.2" height="15" fill="#f23645"/>
<line x1="468.3" y1="288" x2="468.3" y2="376" stroke="#4caf50" stroke-width="0.9"/>
<rect x="467.2" y="289" width="2.2" height="71" fill="#4caf50"/>
<line x1="470.8" y1="288" x2="470.8" y2="335" stroke="#f23645" stroke-width="0.9"/>
<rect x="469.7" y="289" width="2.2" height="41" fill="#f23645"/>
<line x1="473" y1="305" x2="473" y2="330" stroke="#4caf50" stroke-width="0.9"/>
<rect x="471.9" y="306" width="2.2" height="10" fill="#4caf50"/>
<line x1="475.5" y1="291" x2="475.5" y2="308" stroke="#4caf50" stroke-width="0.9"/>
<rect x="474.4" y="303" width="2.2" height="4" fill="#4caf50"/>
<line x1="478" y1="295" x2="478" y2="306" stroke="#4caf50" stroke-width="0.9"/>
<rect x="476.9" y="300" width="2.2" height="5" fill="#4caf50"/>
<line x1="480.5" y1="301" x2="480.5" y2="330" stroke="#f23645" stroke-width="0.9"/>
<rect x="479.4" y="302" width="2.2" height="25" fill="#f23645"/>
<line x1="483" y1="317" x2="483" y2="323" stroke="#4caf50" stroke-width="0.9"/>
<rect x="481.9" y="318" width="2.2" height="4" fill="#4caf50"/>
<line x1="486" y1="317" x2="486" y2="321" stroke="#f23645" stroke-width="0.9"/>
<rect x="484.9" y="318" width="2.2" height="2" fill="#f23645"/>
<line x1="488.3" y1="319" x2="488.3" y2="342" stroke="#f23645" stroke-width="0.9"/>
<rect x="487.2" y="320" width="2.2" height="16" fill="#f23645"/>
<line x1="491" y1="315" x2="491" y2="337" stroke="#4caf50" stroke-width="0.9"/>
<rect x="489.9" y="316" width="2.2" height="20" fill="#4caf50"/>
<line x1="493.6" y1="303" x2="493.6" y2="321" stroke="#4caf50" stroke-width="0.9"/>
<rect x="492.5" y="304" width="2.2" height="16" fill="#4caf50"/>
<line x1="496" y1="289" x2="496" y2="307" stroke="#4caf50" stroke-width="0.9"/>
<rect x="494.9" y="290" width="2.2" height="16" fill="#4caf50"/>
<line x1="498.5" y1="284" x2="498.5" y2="291" stroke="#4caf50" stroke-width="0.9"/>
<rect x="497.4" y="285" width="2.2" height="5" fill="#4caf50"/>
<line x1="500.6" y1="279" x2="500.6" y2="290" stroke="#f23645" stroke-width="0.9"/>
<rect x="499.5" y="280" width="2.2" height="3" fill="#f23645"/>
<line x1="503" y1="275" x2="503" y2="284" stroke="#4caf50" stroke-width="0.9"/>
<rect x="501.9" y="276" width="2.2" height="7" fill="#4caf50"/>
<line x1="505.2" y1="269" x2="505.2" y2="280" stroke="#4caf50" stroke-width="0.9"/>
<rect x="504.1" y="270" width="2.2" height="9" fill="#4caf50"/>
<line x1="508" y1="261" x2="508" y2="273" stroke="#f23645" stroke-width="0.9"/>
<rect x="506.9" y="262" width="2.2" height="10" fill="#f23645"/>
<line x1="510.3" y1="256" x2="510.3" y2="273" stroke="#4caf50" stroke-width="0.9"/>
<rect x="509.2" y="259" width="2.2" height="13" fill="#4caf50"/>
<line x1="513.2" y1="258" x2="513.2" y2="266" stroke="#f23645" stroke-width="0.9"/>
<rect x="512.1" y="259" width="2.2" height="6" fill="#f23645"/>
<line x1="515.4" y1="262" x2="515.4" y2="271" stroke="#f23645" stroke-width="0.9"/>
<rect x="514.3" y="263" width="2.2" height="7" fill="#f23645"/>
<line x1="518" y1="261" x2="518" y2="274" stroke="#4caf50" stroke-width="0.9"/>
<rect x="516.9" y="262" width="2.2" height="8" fill="#4caf50"/>
<line x1="520.2" y1="257" x2="520.2" y2="266" stroke="#4caf50" stroke-width="0.9"/>
<rect x="519.1" y="258" width="2.2" height="7" fill="#4caf50"/>
<line x1="522.7" y1="257" x2="522.7" y2="264" stroke="#f23645" stroke-width="0.9"/>
<rect x="521.6" y="258" width="2.2" height="5" fill="#f23645"/>
<line x1="525" y1="231" x2="525" y2="261" stroke="#4caf50" stroke-width="0.9"/>
<rect x="523.9" y="232" width="2.2" height="28" fill="#4caf50"/>
<line x1="528.2" y1="221" x2="528.2" y2="237" stroke="#4caf50" stroke-width="0.9"/>
<rect x="527.1" y="222" width="2.2" height="11" fill="#4caf50"/>
<line x1="530.7" y1="216" x2="530.7" y2="225" stroke="#4caf50" stroke-width="0.9"/>
<rect x="529.6" y="217" width="2.2" height="7" fill="#4caf50"/>
<line x1="533.4" y1="212" x2="533.4" y2="219" stroke="#f23645" stroke-width="0.9"/>
<rect x="532.3" y="214" width="2.2" height="4" fill="#f23645"/>
<line x1="535.8" y1="212" x2="535.8" y2="220" stroke="#4caf50" stroke-width="0.9"/>
<rect x="534.7" y="213" width="2.2" height="6" fill="#4caf50"/>
<line x1="537.7" y1="211" x2="537.7" y2="226" stroke="#4caf50" stroke-width="0.9"/>
<rect x="536.6" y="212" width="2.2" height="4" fill="#4caf50"/>
<line x1="540.3" y1="211" x2="540.3" y2="221" stroke="#f23645" stroke-width="0.9"/>
<rect x="539.2" y="212" width="2.2" height="8" fill="#f23645"/>
<line x1="542.7" y1="212" x2="542.7" y2="226" stroke="#f23645" stroke-width="0.9"/>
<rect x="541.6" y="218" width="2.2" height="7" fill="#f23645"/>
<line x1="545" y1="222" x2="545" y2="228" stroke="#f23645" stroke-width="0.9"/>
<rect x="543.9" y="223" width="2.2" height="4" fill="#f23645"/>
<line x1="547.8" y1="223" x2="547.8" y2="239" stroke="#f23645" stroke-width="0.9"/>
<rect x="546.7" y="224" width="2.2" height="10" fill="#f23645"/>
<line x1="550.2" y1="217" x2="550.2" y2="231" stroke="#4caf50" stroke-width="0.9"/>
<rect x="549.1" y="218" width="2.2" height="12" fill="#4caf50"/>
<line x1="552.6" y1="212" x2="552.6" y2="221" stroke="#4caf50" stroke-width="0.9"/>
<rect x="551.5" y="213" width="2.2" height="7" fill="#4caf50"/>
<line x1="555" y1="210" x2="555" y2="216" stroke="#4caf50" stroke-width="0.9"/>
<rect x="553.9" y="211" width="2.2" height="4" fill="#4caf50"/>
<line x1="557.8" y1="201" x2="557.8" y2="219" stroke="#f23645" stroke-width="0.9"/>
<rect x="556.7" y="211" width="2.2" height="7" fill="#f23645"/>
<line x1="560" y1="214" x2="560" y2="225" stroke="#f23645" stroke-width="0.9"/>
<rect x="558.9" y="215" width="2.2" height="7" fill="#f23645"/>
<line x1="562.6" y1="209" x2="562.6" y2="218" stroke="#4caf50" stroke-width="0.9"/>
<rect x="561.5" y="210" width="2.2" height="7" fill="#4caf50"/>
<line x1="565.3" y1="204" x2="565.3" y2="213" stroke="#4caf50" stroke-width="0.9"/>
<rect x="564.2" y="205" width="2.2" height="7" fill="#4caf50"/>
<line x1="567.7" y1="202" x2="567.7" y2="208" stroke="#4caf50" stroke-width="0.9"/>
<rect x="566.6" y="203" width="2.2" height="4" fill="#4caf50"/>
<line x1="570.6" y1="202" x2="570.6" y2="213" stroke="#f23645" stroke-width="0.9"/>
<rect x="569.5" y="203" width="2.2" height="9" fill="#f23645"/>
<line x1="573.2" y1="199" x2="573.2" y2="213" stroke="#4caf50" stroke-width="0.9"/>
<rect x="572.1" y="200" width="2.2" height="12" fill="#4caf50"/>
<line x1="575.6" y1="198" x2="575.6" y2="205" stroke="#4caf50" stroke-width="0.9"/>
<rect x="574.5" y="199" width="2.2" height="5" fill="#4caf50"/>
<line x1="578" y1="192" x2="578" y2="201" stroke="#4caf50" stroke-width="0.9"/>
<rect x="576.9" y="195" width="2.2" height="5" fill="#4caf50"/>
<line x1="580.4" y1="192" x2="580.4" y2="201" stroke="#f23645" stroke-width="0.9"/>
<rect x="579.3" y="195" width="2.2" height="5" fill="#f23645"/>
<line x1="582.8" y1="196" x2="582.8" y2="203" stroke="#4caf50" stroke-width="0.9"/>
<rect x="581.7" y="197" width="2.2" height="5" fill="#4caf50"/>
<line x1="585.2" y1="197" x2="585.2" y2="212" stroke="#f23645" stroke-width="0.9"/>
<rect x="584.1" y="198" width="2.2" height="9" fill="#f23645"/>
<line x1="587.5" y1="197" x2="587.5" y2="210" stroke="#4caf50" stroke-width="0.9"/>
<rect x="586.4" y="198" width="2.2" height="9" fill="#4caf50"/>
<line x1="590.4" y1="197" x2="590.4" y2="206" stroke="#f23645" stroke-width="0.9"/>
<rect x="589.3" y="198" width="2.2" height="7" fill="#f23645"/>
<line x1="593.1" y1="199" x2="593.1" y2="206" stroke="#4caf50" stroke-width="0.9"/>
<rect x="592" y="200" width="2.2" height="5" fill="#4caf50"/>
<line x1="595.5" y1="201" x2="595.5" y2="213" stroke="#f23645" stroke-width="0.9"/>
<rect x="594.4" y="202" width="2.2" height="10" fill="#f23645"/>
<line x1="597.9" y1="197" x2="597.9" y2="211" stroke="#4caf50" stroke-width="0.9"/>
<rect x="596.8" y="198" width="2.2" height="12" fill="#4caf50"/>
<line x1="600.3" y1="189" x2="600.3" y2="201" stroke="#4caf50" stroke-width="0.9"/>
<rect x="599.2" y="190" width="2.2" height="10" fill="#4caf50"/>
<line x1="602.7" y1="185" x2="602.7" y2="193" stroke="#4caf50" stroke-width="0.9"/>
<rect x="601.6" y="186" width="2.2" height="6" fill="#4caf50"/>
<line x1="605.1" y1="182" x2="605.1" y2="189" stroke="#4caf50" stroke-width="0.9"/>
<rect x="604" y="183" width="2.2" height="5" fill="#4caf50"/>
<line x1="607.5" y1="177" x2="607.5" y2="186" stroke="#4caf50" stroke-width="0.9"/>
<rect x="606.4" y="178" width="2.2" height="7" fill="#4caf50"/>
<line x1="609.9" y1="173" x2="609.9" y2="181" stroke="#4caf50" stroke-width="0.9"/>
<rect x="608.8" y="175" width="2.2" height="5" fill="#4caf50"/>
<line x1="612.7" y1="171" x2="612.7" y2="179" stroke="#4caf50" stroke-width="0.9"/>
<rect x="611.6" y="172" width="2.2" height="6" fill="#4caf50"/>
<line x1="615.5" y1="171" x2="615.5" y2="181" stroke="#f23645" stroke-width="0.9"/>
<rect x="614.4" y="172" width="2.2" height="6" fill="#f23645"/>
<line x1="617.8" y1="172" x2="617.8" y2="180" stroke="#4caf50" stroke-width="0.9"/>
<rect x="616.7" y="173" width="2.2" height="6" fill="#4caf50"/>
<line x1="620.2" y1="164" x2="620.2" y2="174" stroke="#4caf50" stroke-width="0.9"/>
<rect x="619.1" y="165" width="2.2" height="8" fill="#4caf50"/>
<line x1="622.6" y1="164" x2="622.6" y2="173" stroke="#f23645" stroke-width="0.9"/>
<rect x="621.5" y="165" width="2.2" height="7" fill="#f23645"/>
<line x1="625" y1="169" x2="625" y2="174" stroke="#f23645" stroke-width="0.9"/>
<rect x="623.9" y="170" width="2.2" height="3" fill="#f23645"/>
<line x1="627.4" y1="167" x2="627.4" y2="173" stroke="#4caf50" stroke-width="0.9"/>
<rect x="626.3" y="168" width="2.2" height="4" fill="#4caf50"/>
<line x1="629.8" y1="163" x2="629.8" y2="171" stroke="#4caf50" stroke-width="0.9"/>
<rect x="628.7" y="164" width="2.2" height="6" fill="#4caf50"/>
<line x1="633" y1="163" x2="633" y2="171" stroke="#f23645" stroke-width="0.9"/>
<rect x="631.9" y="164" width="2.2" height="6" fill="#f23645"/>
<line x1="635.4" y1="166" x2="635.4" y2="171" stroke="#f23645" stroke-width="0.9"/>
<rect x="634.3" y="167" width="2.2" height="3" fill="#f23645"/>
<line x1="637.8" y1="164" x2="637.8" y2="171" stroke="#4caf50" stroke-width="0.9"/>
<rect x="636.7" y="165" width="2.2" height="5" fill="#4caf50"/>
<line x1="640.2" y1="160" x2="640.2" y2="166" stroke="#f23645" stroke-width="0.9"/>
<rect x="639.1" y="163" width="2.2" height="2" fill="#f23645"/>
<line x1="642.6" y1="161" x2="642.6" y2="166" stroke="#4caf50" stroke-width="0.9"/>
<rect x="641.5" y="162" width="2.2" height="3" fill="#4caf50"/>
<line x1="645" y1="156" x2="645" y2="164" stroke="#4caf50" stroke-width="0.9"/>
<rect x="643.9" y="157" width="2.2" height="6" fill="#4caf50"/>
<line x1="647.4" y1="156" x2="647.4" y2="159" stroke="#f23645" stroke-width="0.9"/>
<rect x="646.3" y="157" width="2.2" height="1" fill="#f23645"/>
<line x1="649.7" y1="152" x2="649.7" y2="159" stroke="#4caf50" stroke-width="0.9"/>
<rect x="648.6" y="153" width="2.2" height="5" fill="#4caf50"/>
<line x1="653" y1="152" x2="653" y2="161" stroke="#f23645" stroke-width="0.9"/>
<rect x="651.9" y="153" width="2.2" height="7" fill="#f23645"/>
<line x1="655.3" y1="152" x2="655.3" y2="161" stroke="#4caf50" stroke-width="0.9"/>
<rect x="654.2" y="153" width="2.2" height="7" fill="#4caf50"/>
<line x1="657.7" y1="150" x2="657.7" y2="154" stroke="#f23645" stroke-width="0.9"/>
<rect x="656.6" y="151" width="2.2" height="2" fill="#f23645"/>
<line x1="660.1" y1="147" x2="660.1" y2="153" stroke="#4caf50" stroke-width="0.9"/>
<rect x="659" y="148" width="2.2" height="4" fill="#4caf50"/>
<line x1="662.5" y1="145" x2="662.5" y2="150" stroke="#4caf50" stroke-width="0.9"/>
<rect x="661.4" y="146" width="2.2" height="3" fill="#4caf50"/>
<line x1="664.9" y1="142" x2="664.9" y2="148" stroke="#f23645" stroke-width="0.9"/>
<rect x="663.8" y="143" width="2.2" height="4" fill="#f23645"/>
<line x1="667.3" y1="141" x2="667.3" y2="149" stroke="#4caf50" stroke-width="0.9"/>
<rect x="666.2" y="142" width="2.2" height="6" fill="#4caf50"/>
<line x1="669.7" y1="137" x2="669.7" y2="156" stroke="#f23645" stroke-width="0.9"/>
<rect x="668.6" y="143" width="2.2" height="12" fill="#f23645"/>
<line x1="672" y1="154" x2="672" y2="169" stroke="#f23645" stroke-width="0.9"/>
<rect x="670.9" y="155" width="2.2" height="13" fill="#f23645"/>
<line x1="675.3" y1="152" x2="675.3" y2="169" stroke="#4caf50" stroke-width="0.9"/>
<rect x="674.2" y="153" width="2.2" height="15" fill="#4caf50"/>
<line x1="677.7" y1="151" x2="677.7" y2="163" stroke="#f23645" stroke-width="0.9"/>
<rect x="676.6" y="152" width="2.2" height="10" fill="#f23645"/>
<line x1="680" y1="149" x2="680" y2="163" stroke="#4caf50" stroke-width="0.9"/>
<rect x="678.9" y="150" width="2.2" height="12" fill="#4caf50"/>
<line x1="682.6" y1="144" x2="682.6" y2="153" stroke="#4caf50" stroke-width="0.9"/>
<rect x="681.5" y="145" width="2.2" height="7" fill="#4caf50"/>
<line x1="684.9" y1="137" x2="684.9" y2="148" stroke="#4caf50" stroke-width="0.9"/>
<rect x="683.8" y="138" width="2.2" height="9" fill="#4caf50"/>
<line x1="687.3" y1="137" x2="687.3" y2="145" stroke="#f23645" stroke-width="0.9"/>
<rect x="686.2" y="138" width="2.2" height="6" fill="#f23645"/>
<line x1="689.7" y1="132" x2="689.7" y2="144" stroke="#4caf50" stroke-width="0.9"/>
<rect x="688.6" y="133" width="2.2" height="10" fill="#4caf50"/>
<line x1="692.3" y1="128" x2="692.3" y2="134" stroke="#f23645" stroke-width="0.9"/>
<rect x="691.2" y="132" width="2.2" height="1" fill="#f23645"/>
<line x1="694.6" y1="132" x2="694.6" y2="136" stroke="#f23645" stroke-width="0.9"/>
<rect x="693.5" y="133" width="2.2" height="2" fill="#f23645"/>
<line x1="696.6" y1="133" x2="696.6" y2="138" stroke="#f23645" stroke-width="0.9"/>
<rect x="695.5" y="134" width="2.2" height="3" fill="#f23645"/>
<line x1="698.6" y1="134" x2="698.6" y2="139" stroke="#f23645" stroke-width="0.9"/>
<rect x="697.5" y="135" width="2.2" height="3" fill="#f23645"/>
<line x1="700.9" y1="135" x2="700.9" y2="139" stroke="#f23645" stroke-width="0.9"/>
<rect x="699.8" y="136" width="2.2" height="2" fill="#f23645"/>
<line x1="702.8" y1="136" x2="702.8" y2="149" stroke="#f23645" stroke-width="0.9"/>
<rect x="701.7" y="137" width="2.2" height="11" fill="#f23645"/>
<line x1="705.2" y1="146" x2="705.2" y2="156" stroke="#f23645" stroke-width="0.9"/>
<rect x="704.1" y="147" width="2.2" height="8" fill="#f23645"/>
<line x1="707.2" y1="151" x2="707.2" y2="157" stroke="#f23645" stroke-width="0.9"/>
<rect x="706.1" y="152" width="2.2" height="4" fill="#f23645"/>
<line x1="709.6" y1="142" x2="709.6" y2="160" stroke="#4caf50" stroke-width="0.9"/>
<rect x="708.5" y="143" width="2.2" height="14" fill="#4caf50"/>
<line x1="711.9" y1="142" x2="711.9" y2="148" stroke="#f23645" stroke-width="0.9"/>
<rect x="710.8" y="143" width="2.2" height="4" fill="#f23645"/>
<line x1="714.5" y1="142" x2="714.5" y2="147" stroke="#4caf50" stroke-width="0.9"/>
<rect x="713.4" y="143" width="2.2" height="3" fill="#4caf50"/>
<line x1="717.2" y1="142" x2="717.2" y2="148" stroke="#f23645" stroke-width="0.9"/>
<rect x="716.1" y="143" width="2.2" height="4" fill="#f23645"/>
<line x1="719.9" y1="136" x2="719.9" y2="147" stroke="#4caf50" stroke-width="0.9"/>
<rect x="718.8" y="137" width="2.2" height="9" fill="#4caf50"/>
<line x1="722.5" y1="136" x2="722.5" y2="148" stroke="#f23645" stroke-width="0.9"/>
<rect x="721.4" y="137" width="2.2" height="10" fill="#f23645"/>
<line x1="724.8" y1="143" x2="724.8" y2="147" stroke="#4caf50" stroke-width="0.9"/>
<rect x="723.7" y="144" width="2.2" height="2" fill="#4caf50"/>
<line x1="727.2" y1="144" x2="727.2" y2="161" stroke="#f23645" stroke-width="0.9"/>
<rect x="726.1" y="145" width="2.2" height="3" fill="#f23645"/>
<line x1="729.6" y1="140" x2="729.6" y2="150" stroke="#4caf50" stroke-width="0.9"/>
<rect x="728.5" y="141" width="2.2" height="8" fill="#4caf50"/>
<line x1="732.2" y1="137" x2="732.2" y2="144" stroke="#4caf50" stroke-width="0.9"/>
<rect x="731.1" y="138" width="2.2" height="5" fill="#4caf50"/>
<line x1="734.5" y1="132" x2="734.5" y2="141" stroke="#f23645" stroke-width="0.9"/>
<rect x="733.4" y="138" width="2.2" height="2" fill="#f23645"/>
<line x1="737.6" y1="134" x2="737.6" y2="141" stroke="#4caf50" stroke-width="0.9"/>
<rect x="736.5" y="135" width="2.2" height="5" fill="#4caf50"/>
<line x1="740.2" y1="131" x2="740.2" y2="137" stroke="#4caf50" stroke-width="0.9"/>
<rect x="739.1" y="132" width="2.2" height="4" fill="#4caf50"/>
<line x1="742.5" y1="131" x2="742.5" y2="135" stroke="#f23645" stroke-width="0.9"/>
<rect x="741.4" y="132" width="2.2" height="2" fill="#f23645"/>
<line x1="744.7" y1="127" x2="744.7" y2="135" stroke="#4caf50" stroke-width="0.9"/>
<rect x="743.6" y="128" width="2.2" height="6" fill="#4caf50"/>
<line x1="747.1" y1="122" x2="747.1" y2="130" stroke="#4caf50" stroke-width="0.9"/>
<rect x="746" y="123" width="2.2" height="6" fill="#4caf50"/>
<line x1="749.8" y1="116" x2="749.8" y2="125" stroke="#4caf50" stroke-width="0.9"/>
<rect x="748.7" y="117" width="2.2" height="7" fill="#4caf50"/>
<line x1="752.2" y1="116" x2="752.2" y2="120" stroke="#f23645" stroke-width="0.9"/>
<rect x="751.1" y="117" width="2.2" height="2" fill="#f23645"/>
<line x1="754.4" y1="117" x2="754.4" y2="127" stroke="#f23645" stroke-width="0.9"/>
<rect x="753.3" y="118" width="2.2" height="2" fill="#f23645"/>
<line x1="757.1" y1="110" x2="757.1" y2="121" stroke="#4caf50" stroke-width="0.9"/>
<rect x="756" y="111" width="2.2" height="9" fill="#4caf50"/>
<line x1="759.8" y1="106" x2="759.8" y2="113" stroke="#4caf50" stroke-width="0.9"/>
<rect x="758.7" y="107" width="2.2" height="5" fill="#4caf50"/>
<line x1="762.1" y1="100" x2="762.1" y2="108" stroke="#4caf50" stroke-width="0.9"/>
<rect x="761" y="101" width="2.2" height="6" fill="#4caf50"/>
<line x1="764.8" y1="100" x2="764.8" y2="109" stroke="#f23645" stroke-width="0.9"/>
<rect x="763.7" y="101" width="2.2" height="7" fill="#f23645"/>
<line x1="767.4" y1="104" x2="767.4" y2="113" stroke="#f23645" stroke-width="0.9"/>
<rect x="766.3" y="105" width="2.2" height="7" fill="#f23645"/>
<line x1="769.8" y1="108" x2="769.8" y2="121" stroke="#f23645" stroke-width="0.9"/>
<rect x="768.7" y="109" width="2.2" height="11" fill="#f23645"/>
<line x1="772.2" y1="109" x2="772.2" y2="118" stroke="#4caf50" stroke-width="0.9"/>
<rect x="771.1" y="110" width="2.2" height="7" fill="#4caf50"/>
<line x1="774.4" y1="102" x2="774.4" y2="111" stroke="#4caf50" stroke-width="0.9"/>
<rect x="773.3" y="107" width="2.2" height="3" fill="#4caf50"/>
<line x1="776.8" y1="103" x2="776.8" y2="110" stroke="#4caf50" stroke-width="0.9"/>
<rect x="775.7" y="104" width="2.2" height="5" fill="#4caf50"/>
<line x1="779.7" y1="98" x2="779.7" y2="112" stroke="#4caf50" stroke-width="0.9"/>
<rect x="778.6" y="99" width="2.2" height="6" fill="#4caf50"/>
<line x1="782.3" y1="94" x2="782.3" y2="101" stroke="#4caf50" stroke-width="0.9"/>
<rect x="781.2" y="95" width="2.2" height="5" fill="#4caf50"/>
<line x1="785" y1="94" x2="785" y2="103" stroke="#f23645" stroke-width="0.9"/>
<rect x="783.9" y="95" width="2.2" height="7" fill="#f23645"/>
<line x1="787.4" y1="92" x2="787.4" y2="101" stroke="#4caf50" stroke-width="0.9"/>
<rect x="786.3" y="93" width="2.2" height="7" fill="#4caf50"/>
<line x1="789.8" y1="91" x2="789.8" y2="100" stroke="#f23645" stroke-width="0.9"/>
<rect x="788.7" y="92" width="2.2" height="7" fill="#f23645"/>
<line x1="792.1" y1="87" x2="792.1" y2="99" stroke="#4caf50" stroke-width="0.9"/>
<rect x="791" y="88" width="2.2" height="10" fill="#4caf50"/>
<line x1="794.6" y1="87" x2="794.6" y2="92" stroke="#f23645" stroke-width="0.9"/>
<rect x="793.5" y="88" width="2.2" height="3" fill="#f23645"/>
<line x1="797" y1="87" x2="797" y2="128" stroke="#f23645" stroke-width="0.9"/>
<rect x="795.9" y="88" width="2.2" height="39" fill="#f23645"/>
<line x1="799.9" y1="100" x2="799.9" y2="128" stroke="#4caf50" stroke-width="0.9"/>
<rect x="798.8" y="101" width="2.2" height="26" fill="#4caf50"/>
<line x1="802.6" y1="101" x2="802.6" y2="118" stroke="#f23645" stroke-width="0.9"/>
<rect x="801.5" y="102" width="2.2" height="6" fill="#f23645"/>
<line x1="804.9" y1="95" x2="804.9" y2="110" stroke="#4caf50" stroke-width="0.9"/>
<rect x="803.8" y="101" width="2.2" height="8" fill="#4caf50"/>
<line x1="807.3" y1="94" x2="807.3" y2="111" stroke="#f23645" stroke-width="0.9"/>
<rect x="806.2" y="95" width="2.2" height="11" fill="#f23645"/>
<line x1="809.8" y1="97" x2="809.8" y2="118" stroke="#4caf50" stroke-width="0.9"/>
<rect x="808.7" y="98" width="2.2" height="8" fill="#4caf50"/>
<line x1="812.1" y1="87" x2="812.1" y2="100" stroke="#4caf50" stroke-width="0.9"/>
<rect x="811" y="88" width="2.2" height="11" fill="#4caf50"/>
<line x1="814.8" y1="86" x2="814.8" y2="92" stroke="#f23645" stroke-width="0.9"/>
<rect x="813.7" y="88" width="2.2" height="3" fill="#f23645"/>
<line x1="816.9" y1="89" x2="816.9" y2="105" stroke="#f23645" stroke-width="0.9"/>
<rect x="815.8" y="90" width="2.2" height="8" fill="#f23645"/>
<line x1="819.4" y1="88" x2="819.4" y2="100" stroke="#4caf50" stroke-width="0.9"/>
<rect x="818.3" y="89" width="2.2" height="8" fill="#4caf50"/>
<line x1="822.2" y1="79" x2="822.2" y2="90" stroke="#4caf50" stroke-width="0.9"/>
<rect x="821.1" y="80" width="2.2" height="9" fill="#4caf50"/>
<line x1="824.9" y1="63" x2="824.9" y2="83" stroke="#4caf50" stroke-width="0.9"/>
<rect x="823.8" y="64" width="2.2" height="18" fill="#4caf50"/>
<line x1="827.1" y1="57" x2="827.1" y2="66" stroke="#4caf50" stroke-width="0.9"/>
<rect x="826" y="59" width="2.2" height="6" fill="#4caf50"/>
<line x1="829.6" y1="52" x2="829.6" y2="60" stroke="#4caf50" stroke-width="0.9"/>
<rect x="828.5" y="57" width="2.2" height="2" fill="#4caf50"/>
<line x1="831.9" y1="51" x2="831.9" y2="61" stroke="#f23645" stroke-width="0.9"/>
<rect x="830.8" y="57" width="2.2" height="3" fill="#f23645"/>
<line x1="834.3" y1="55" x2="834.3" y2="68" stroke="#f23645" stroke-width="0.9"/>
<rect x="833.2" y="57" width="2.2" height="6" fill="#f23645"/>
<line x1="837" y1="59.3" x2="837" y2="65" stroke="#4caf50" stroke-width="0.9"/>
<rect x="835.9" y="62.5" width="2.2" height="1.5" fill="#4caf50"/>
</g>
<circle cx="837" cy="365.9" r="9.9" fill="#0d0b10" stroke="#b04fd0" stroke-width="2.1"/>
<path d="M840 360.8 L834.6 366.6 L840.2 365.2 L834.2 371" fill="none" stroke="#b04fd0" stroke-width="2" stroke-linejoin="miter" stroke-linecap="round"/>
<circle cx="843.8" cy="358.9" r="3.9" fill="#0d0b10"/>
<circle cx="843.8" cy="358.9" r="2.9" fill="#f23645"/>
<circle cx="847.2" cy="390.8" r="11" fill="#f23645"/>
<circle cx="847.2" cy="390.8" r="9.5" fill="#0b0b0d"/>
<clipPath id="fb"><circle cx="847.2" cy="390.8" r="8.1"/></clipPath>
<g clip-path="url(#fb)">
<rect x="838.7" y="382.3" width="17" height="17" fill="#ffffff"/>
<rect x="838.7" y="382.5" width="17" height="2.6" fill="#ec3b46"/>
<rect x="838.7" y="387.9" width="17" height="2.6" fill="#ec3b46"/>
<rect x="838.7" y="393.7" width="17" height="2.6" fill="#ec3b46"/>
<rect x="838.7" y="398" width="17" height="2.6" fill="#ec3b46"/>
<rect x="838.7" y="382.3" width="10" height="9.1" fill="#3c78e6"/>
<circle cx="841.7" cy="385" r="0.55" fill="#dfe8ff"/>
<circle cx="841.7" cy="387.5" r="0.55" fill="#dfe8ff"/>
<circle cx="841.7" cy="390" r="0.55" fill="#dfe8ff"/>
<circle cx="844.2" cy="385" r="0.55" fill="#dfe8ff"/>
<circle cx="844.2" cy="387.5" r="0.55" fill="#dfe8ff"/>
<circle cx="844.2" cy="390" r="0.55" fill="#dfe8ff"/>
<circle cx="846.7" cy="385" r="0.55" fill="#dfe8ff"/>
<circle cx="846.7" cy="387.5" r="0.55" fill="#dfe8ff"/>
<circle cx="846.7" cy="390" r="0.55" fill="#dfe8ff"/>
</g>
<circle cx="840.6" cy="390.8" r="11" fill="#f23645"/>
<circle cx="840.6" cy="390.8" r="9.5" fill="#0b0b0d"/>
<circle cx="839.2" cy="390.8" r="11" fill="#f23645"/>
<circle cx="839.2" cy="390.8" r="9.5" fill="#0b0b0d"/>
<circle cx="837.9" cy="390.8" r="11" fill="#f23645"/>
<circle cx="837.9" cy="390.8" r="9.5" fill="#0b0b0d"/>
<circle cx="837" cy="390.8" r="11" fill="#f23645"/>
<circle cx="837" cy="390.8" r="9.5" fill="#0b0b0d"/>
<clipPath id="ff"><circle cx="837" cy="390.8" r="8.1"/></clipPath>
<g clip-path="url(#ff)">
<rect x="828.5" y="382.3" width="17" height="17" fill="#ffffff"/>
<rect x="828.5" y="382.5" width="17" height="2.6" fill="#ec3b46"/>
<rect x="828.5" y="387.9" width="17" height="2.6" fill="#ec3b46"/>
<rect x="828.5" y="393.7" width="17" height="2.6" fill="#ec3b46"/>
<rect x="828.5" y="398" width="17" height="2.6" fill="#ec3b46"/>
<rect x="828.5" y="382.3" width="10" height="9.1" fill="#3c78e6"/>
<circle cx="831.5" cy="385" r="0.55" fill="#dfe8ff"/>
<circle cx="831.5" cy="387.5" r="0.55" fill="#dfe8ff"/>
<circle cx="831.5" cy="390" r="0.55" fill="#dfe8ff"/>
<circle cx="834" cy="385" r="0.55" fill="#dfe8ff"/>
<circle cx="834" cy="387.5" r="0.55" fill="#dfe8ff"/>
<circle cx="834" cy="390" r="0.55" fill="#dfe8ff"/>
<circle cx="836.5" cy="385" r="0.55" fill="#dfe8ff"/>
<circle cx="836.5" cy="387.5" r="0.55" fill="#dfe8ff"/>
<circle cx="836.5" cy="390" r="0.55" fill="#dfe8ff"/>
</g>
<clipPath id="os"><rect x="0" y="512" width="1158.5" height="28"/></clipPath>
<linearGradient id="osg" x1="0" y1="512" x2="0" y2="527" gradientUnits="userSpaceOnUse"><stop offset="0" stop-color="#3a1626" stop-opacity="0.3"/><stop offset="1" stop-color="#6a1a2a"/></linearGradient>
<polygon points="0,476.5 2,477.5 3.9,475 6.8,474.6 8.8,476.5 10.7,501.9 13.3,510 15.6,501.9 17.9,497.6 19.5,501.9 21.4,507.7 23.4,476.5 26.3,486.3 28.3,499.9 30.2,505.8 32.2,508.7 34.7,510.6 36.1,513.2 38,488.2 40.9,486.7 42.9,485.3 45.2,476.5 46.8,471.1 48.7,468.7 51.1,458 53.6,456.1 56.5,450.8 59.5,451.2 61.4,449.2 63.4,460 66.3,456.1 68.2,463.3 70.6,461.3 73.1,472.2 76,467.8 79.9,460.9 81.9,461.9 83.4,482.4 86.7,483.4 88.7,487.3 91.2,498.9 93.2,486.3 95.9,482 97.9,467.8 101.4,461.9 103.3,460 106.2,462.5 108.2,461.3 111.1,463.3 113.1,450.2 116,451.2 118.9,447.3 121.8,445.3 125.7,440.1 127,439.5 128.9,448.3 131.2,447.3 133.2,460.9 135.7,458 138.3,461.9 140.6,454.1 142.9,460.9 145.5,449.2 148.4,445.3 152.3,446.3 155.2,439.1 158.1,455.1 161.1,456.1 164,453.1 166.3,448.8 168.9,447.3 170.8,449.2 173.3,462.9 176.7,455.1 179.6,451.2 183.1,442.4 185.4,457 188.4,480.4 190.3,473.6 193.2,475.6 195.6,458 198.7,440.5 201.4,434 204.5,434 207.8,436.6 210.8,438.5 212.7,455.1 215.1,473 218.2,466.8 220.5,461.9 222.9,461.9 226.4,458 230.3,454.1 233.2,451.2 235.7,461.9 238.1,459 240.4,455.1 243.9,443.4 247.8,431.7 249.8,434.6 252.8,429.7 255.5,440.5 257.8,443.4 260.1,432.1 263.3,439.5 265.6,433.6 268.1,424.3 270.5,431.7 273,471.7 275.3,473.6 278.3,466.8 281.2,456.1 283.5,449.6 286.1,453.1 289,464.8 290.9,475.6 293.3,479.5 295.8,482.4 298.3,470.7 300.7,459 303,472.6 305.6,475.6 308.1,476.5 310.4,486.3 313.4,487.3 315.3,487.3 318.2,469.7 320.2,475 323.1,460.9 326,457 328.4,454.1 330.9,446.3 333.4,445.3 335.8,451.2 338.3,477.5 340.6,468.7 343.6,464.8 346.5,465.8 349.4,467.2 352.3,464.8 355.3,456.1 358.2,454.1 360.7,467.8 363.1,457 365.4,458 367.9,455.1 370.5,446.3 372.8,441.4 375.7,440.1 378.9,440.5 381.8,442.4 383.8,448.3 385.1,476.5 387.7,485.3 390.2,495 392.9,492.5 395.1,511.2 398.4,497 400.3,505.8 402.7,505.8 405.2,501.9 407.2,512.6 409.7,510.6 412.4,524.3 415,526.2 417.5,516.5 419.8,521.4 422.4,503.8 425.3,497 427.6,504.2 430,495 432.5,493.7 435,491.2 437.4,476.5 440.3,470.7 442.3,483.4 444.8,487.3 447.1,501.5 450,498.9 453,494.1 455.3,503.8 457.8,513.6 460.4,526.8 462.7,522.3 465.1,526.2 467,473.6 470.1,485.3 472.5,479.5 476.4,477.5 480.3,486.3 483.8,485.3 485.7,486.3 487.7,494.1 490.4,482.4 492.9,470.3 495.5,463.9 497.8,460 500.2,461.3 502.9,457 505.5,454.1 507.4,455.1 510.1,447.7 512.7,452.7 515.6,457 518.5,453.1 520.5,450.8 522.4,450.2 524.4,438.5 526.3,430.7 529.2,428.2 533.1,428.2 537,425.8 540,429.7 541.9,441.4 544.4,441.4 547.2,450.2 549.7,442.4 552.2,438.5 554.6,437.2 556.9,443.4 560.4,443.4 562.8,438.5 565.3,434.6 567.3,433.3 570.2,445.3 572.5,437.2 575,436.6 577,433.3 579.9,436.6 582.3,436.6 585,450.2 587.3,441.4 590.1,451.2 592.6,452.2 595.1,464.4 597.5,458 600.4,449.2 601.8,440.5 604.9,437.2 607.2,432.1 609.6,430.7 612.1,427.4 615,437.2 617.9,430.7 619.9,427.4 622.4,435.6 625.1,439.5 627.7,436 629.9,433.3 632.8,435.6 634.7,439.5 637.7,436.6 640.6,437.5 643.5,432.1 645.5,427.8 647.4,428.8 650,425.5 652.3,437.9 654.2,429.7 657.2,430.1 660.1,428.2 662.4,425.8 665,429.4 666.9,422.9 669.4,449.2 672.2,475.6 674.7,454.7 677.2,466.4 679.6,455.1 681.9,452.2 684.5,443.4 687,449.2 689.7,440.5 692.3,440.5 694.8,443.4 697.5,447.3 700,452.2 702.6,466.4 704.9,472.2 707.3,475.6 709.2,460.9 711.7,462.9 714.3,459 716.6,461.9 719.5,455.1 722.1,466.8 724.4,465.8 727.3,471.1 730.3,462.9 732.6,458 735.7,457 739,448.8 742,450.2 744.3,443.4 747.4,438.5 749.8,431.7 752,432.4 754.3,435.3 756.8,427.5 759.7,420.7 762.1,418.2 764,431.4 766.6,437.3 769.1,446.1 771.4,442.2 774.4,437.3 776.9,436.3 779.2,429.5 782.2,425.6 784.1,436.3 787,428.5 789.4,438.3 791.9,427.5 793.9,432.4 795.2,449 797.2,487 799.7,461.7 802.2,465.6 804.6,461.1 806.9,465.6 809.5,456.8 812.4,450 814.7,453.3 817.3,461.1 819.8,452.9 822.1,446.1 824.1,435.3 827,431.4 828.9,430.5 831.9,433.8 834.2,441.2 837.3,440.9 837.3,512 0,512" fill="url(#osg)" clip-path="url(#os)"/>
<g clip-path="url(#rc)">
<polyline points="0,476.5 2,477.5 3.9,475 6.8,474.6 8.8,476.5 10.7,501.9 13.3,510 15.6,501.9 17.9,497.6 19.5,501.9 21.4,507.7 23.4,476.5 26.3,486.3 28.3,499.9 30.2,505.8 32.2,508.7 34.7,510.6 36.1,513.2 38,488.2 40.9,486.7 42.9,485.3 45.2,476.5 46.8,471.1 48.7,468.7 51.1,458 53.6,456.1 56.5,450.8 59.5,451.2 61.4,449.2 63.4,460 66.3,456.1 68.2,463.3 70.6,461.3 73.1,472.2 76,467.8 79.9,460.9 81.9,461.9 83.4,482.4 86.7,483.4 88.7,487.3 91.2,498.9 93.2,486.3 95.9,482 97.9,467.8 101.4,461.9 103.3,460 106.2,462.5 108.2,461.3 111.1,463.3 113.1,450.2 116,451.2 118.9,447.3 121.8,445.3 125.7,440.1 127,439.5 128.9,448.3 131.2,447.3 133.2,460.9 135.7,458 138.3,461.9 140.6,454.1 142.9,460.9 145.5,449.2 148.4,445.3 152.3,446.3 155.2,439.1 158.1,455.1 161.1,456.1 164,453.1 166.3,448.8 168.9,447.3 170.8,449.2 173.3,462.9 176.7,455.1 179.6,451.2 183.1,442.4 185.4,457 188.4,480.4 190.3,473.6 193.2,475.6 195.6,458 198.7,440.5 201.4,434 204.5,434 207.8,436.6 210.8,438.5 212.7,455.1 215.1,473 218.2,466.8 220.5,461.9 222.9,461.9 226.4,458 230.3,454.1 233.2,451.2 235.7,461.9 238.1,459 240.4,455.1 243.9,443.4 247.8,431.7 249.8,434.6 252.8,429.7 255.5,440.5 257.8,443.4 260.1,432.1 263.3,439.5 265.6,433.6 268.1,424.3 270.5,431.7 273,471.7 275.3,473.6 278.3,466.8 281.2,456.1 283.5,449.6 286.1,453.1 289,464.8 290.9,475.6 293.3,479.5 295.8,482.4 298.3,470.7 300.7,459 303,472.6 305.6,475.6 308.1,476.5 310.4,486.3 313.4,487.3 315.3,487.3 318.2,469.7 320.2,475 323.1,460.9 326,457 328.4,454.1 330.9,446.3 333.4,445.3 335.8,451.2 338.3,477.5 340.6,468.7 343.6,464.8 346.5,465.8 349.4,467.2 352.3,464.8 355.3,456.1 358.2,454.1 360.7,467.8 363.1,457 365.4,458 367.9,455.1 370.5,446.3 372.8,441.4 375.7,440.1 378.9,440.5 381.8,442.4 383.8,448.3 385.1,476.5 387.7,485.3 390.2,495 392.9,492.5 395.1,511.2 398.4,497 400.3,505.8 402.7,505.8 405.2,501.9 407.2,512.6 409.7,510.6 412.4,524.3 415,526.2 417.5,516.5 419.8,521.4 422.4,503.8 425.3,497 427.6,504.2 430,495 432.5,493.7 435,491.2 437.4,476.5 440.3,470.7 442.3,483.4 444.8,487.3 447.1,501.5 450,498.9 453,494.1 455.3,503.8 457.8,513.6 460.4,526.8 462.7,522.3 465.1,526.2 467,473.6 470.1,485.3 472.5,479.5 476.4,477.5 480.3,486.3 483.8,485.3 485.7,486.3 487.7,494.1 490.4,482.4 492.9,470.3 495.5,463.9 497.8,460 500.2,461.3 502.9,457 505.5,454.1 507.4,455.1 510.1,447.7 512.7,452.7 515.6,457 518.5,453.1 520.5,450.8 522.4,450.2 524.4,438.5 526.3,430.7 529.2,428.2 533.1,428.2 537,425.8 540,429.7 541.9,441.4 544.4,441.4 547.2,450.2 549.7,442.4 552.2,438.5 554.6,437.2 556.9,443.4 560.4,443.4 562.8,438.5 565.3,434.6 567.3,433.3 570.2,445.3 572.5,437.2 575,436.6 577,433.3 579.9,436.6 582.3,436.6 585,450.2 587.3,441.4 590.1,451.2 592.6,452.2 595.1,464.4 597.5,458 600.4,449.2 601.8,440.5 604.9,437.2 607.2,432.1 609.6,430.7 612.1,427.4 615,437.2 617.9,430.7 619.9,427.4 622.4,435.6 625.1,439.5 627.7,436 629.9,433.3 632.8,435.6 634.7,439.5 637.7,436.6 640.6,437.5 643.5,432.1 645.5,427.8 647.4,428.8 650,425.5 652.3,437.9 654.2,429.7 657.2,430.1 660.1,428.2 662.4,425.8 665,429.4 666.9,422.9 669.4,449.2 672.2,475.6 674.7,454.7 677.2,466.4 679.6,455.1 681.9,452.2 684.5,443.4 687,449.2 689.7,440.5 692.3,440.5 694.8,443.4 697.5,447.3 700,452.2 702.6,466.4 704.9,472.2 707.3,475.6 709.2,460.9 711.7,462.9 714.3,459 716.6,461.9 719.5,455.1 722.1,466.8 724.4,465.8 727.3,471.1 730.3,462.9 732.6,458 735.7,457 739,448.8 742,450.2 744.3,443.4 747.4,438.5 749.8,431.7 752,432.4 754.3,435.3 756.8,427.5 759.7,420.7 762.1,418.2 764,431.4 766.6,437.3 769.1,446.1 771.4,442.2 774.4,437.3 776.9,436.3 779.2,429.5 782.2,425.6 784.1,436.3 787,428.5 789.4,438.3 791.9,427.5 793.9,432.4 795.2,449 797.2,487 799.7,461.7 802.2,465.6 804.6,461.1 806.9,465.6 809.5,456.8 812.4,450 814.7,453.3 817.3,461.1 819.8,452.9 822.1,446.1 824.1,435.3 827,431.4 828.9,430.5 831.9,433.8 834.2,441.2 837.3,440.9" fill="none" stroke="#8356d0" stroke-width="1.4" stroke-linejoin="round"/>
<path d="M0,437.2 C0.97,438.23 3.85,440.42 5.8,443.4 C7.75,446.38 9.75,450.88 11.7,455.1 C13.65,459.32 15.55,464.48 17.5,468.7 C19.45,472.92 21.45,477.15 23.4,480.4 C25.35,483.65 27.25,485.77 29.2,488.2 C31.15,490.63 32.82,493.27 35.1,495 C37.38,496.73 40.3,499.08 42.9,498.6 C45.5,498.12 48.1,494.8 50.7,492.1 C53.3,489.4 55.9,485.65 58.5,482.4 C61.1,479.15 64.03,475.6 66.3,472.6 C68.57,469.6 69.83,466.5 72.1,464.4 C74.37,462.3 77.62,460.25 79.9,460 C82.18,459.75 83.85,461.45 85.8,462.9 C87.75,464.35 89.65,466.98 91.6,468.7 C93.55,470.42 95.22,472.28 97.5,473.2 C99.78,474.12 102.22,474.55 105.3,474.2 C108.38,473.85 113.08,472.67 116,471.1 C118.92,469.53 120.33,467.63 122.8,464.8 C125.27,461.97 128.48,456.05 130.8,454.1 C133.12,452.15 134.42,453.42 136.7,453.1 C138.98,452.78 141.58,452.62 144.5,452.2 C147.42,451.78 151.28,450.45 154.2,450.6 C157.12,450.75 159.07,453 162,453.1 C164.93,453.2 168.22,451.58 171.8,451.2 C175.38,450.82 180.58,450.15 183.5,450.8 C186.42,451.45 187.18,453.9 189.3,455.1 C191.42,456.3 193.92,457.93 196.2,458 C198.48,458.07 200.42,456.63 203,455.5 C205.58,454.37 208.78,451.27 211.7,451.2 C214.62,451.13 217.25,455.2 220.5,455.1 C223.75,455 227.62,450.43 231.2,450.6 C234.78,450.77 239.23,455.35 242,456.1 C244.77,456.85 245.5,456.57 247.8,455.1 C250.1,453.63 253.48,449.25 255.8,447.3 C258.12,445.35 259.25,444.93 261.7,443.4 C264.15,441.87 267.9,438.27 270.5,438.1 C273.1,437.93 274.87,441.03 277.3,442.4 C279.73,443.77 282.5,444.35 285.1,446.3 C287.7,448.25 290.63,451.82 292.9,454.1 C295.17,456.38 296.58,457.72 298.7,460 C300.82,462.28 303.65,466.18 305.6,467.8 C307.55,469.42 308.62,468.73 310.4,469.7 C312.18,470.67 314.42,472.53 316.3,473.6 C318.18,474.67 319.75,476.33 321.7,476.1 C323.65,475.87 325.98,473.58 328,472.2 C330.02,470.82 331.53,468.7 333.8,467.8 C336.07,466.9 338.83,467.68 341.6,466.8 C344.37,465.92 347.8,463.57 350.4,462.5 C353,461.43 354.12,460.4 357.2,460.4 C360.28,460.4 365.93,462.9 368.9,462.5 C371.87,462.1 372.68,459.57 375,458 C377.32,456.43 380.53,453.42 382.8,453.1 C385.07,452.78 386,453.82 388.6,456.1 C391.2,458.38 395.47,463.07 398.4,466.8 C401.33,470.53 403.93,474.6 406.2,478.5 C408.47,482.4 410.22,486.3 412,490.2 C413.78,494.1 415.27,498.82 416.9,501.9 C418.53,504.98 420.02,507.33 421.8,508.7 C423.58,510.07 425.65,510.1 427.6,510.1 C429.55,510.1 431.22,510.07 433.5,508.7 C435.78,507.33 438.87,503.85 441.3,501.9 C443.73,499.95 445.83,498.47 448.1,497 C450.37,495.53 452.78,493.33 454.9,493.1 C457.02,492.87 459.02,494.53 460.8,495.6 C462.58,496.67 463.98,499.2 465.6,499.5 C467.22,499.8 468.7,497.65 470.5,497.4 C472.3,497.15 474.62,498.07 476.4,498 C478.18,497.93 479.25,497.55 481.2,497 C483.15,496.45 485.82,497.13 488.1,494.7 C490.38,492.27 492.92,485.17 494.9,482.4 C496.88,479.63 497.53,480.22 500,478.1 C502.47,475.98 506.45,472.5 509.7,469.7 C512.95,466.9 516.57,464.22 519.5,461.3 C522.43,458.38 524.7,454.92 527.3,452.2 C529.9,449.48 532.83,447.02 535.1,445 C537.37,442.98 538.63,441.18 540.9,440.1 C543.17,439.02 546.1,439.32 548.7,438.5 C551.3,437.68 553.57,435.42 556.5,435.2 C559.43,434.98 563.37,436.42 566.3,437.2 C569.23,437.98 571.5,439.68 574.1,439.9 C576.7,440.12 578.98,438.4 581.9,438.5 C584.82,438.6 588.35,439.42 591.6,440.5 C594.85,441.58 598.47,444.45 601.4,445 C604.33,445.55 606.6,444.13 609.2,443.8 C611.8,443.47 614.37,443.72 617,443 C619.63,442.28 622.37,440.9 625,439.5 C627.63,438.1 630.2,435.52 632.8,434.6 C635.4,433.68 638,434.1 640.6,434 C643.2,433.9 645.8,434 648.4,434 C651,434 653.93,434.32 656.2,434 C658.47,433.68 660.12,432.55 662,432.1 C663.88,431.65 665.55,430.55 667.5,431.3 C669.45,432.05 671.37,434.75 673.7,436.6 C676.03,438.45 678.9,441 681.5,442.4 C684.1,443.8 686.7,444.02 689.3,445 C691.9,445.98 694.82,446.95 697.1,448.3 C699.38,449.65 701.05,452.13 703,453.1 C704.95,454.07 706.53,453.77 708.8,454.1 C711.07,454.43 714.32,454.62 716.6,455.1 C718.88,455.58 720.22,455.7 722.5,457 C724.78,458.3 728.2,461.67 730.3,462.9 C732.4,464.13 733.15,464.73 735.1,464.4 C737.05,464.07 739.52,462.57 742,460.9 C744.48,459.23 747.7,456.22 750,454.4 C752.3,452.58 753.53,452.37 755.8,450 C758.07,447.63 761.32,442.48 763.6,440.2 C765.88,437.92 767.55,437.17 769.5,436.3 C771.45,435.43 773.18,435.65 775.3,435 C777.42,434.35 779.92,432.83 782.2,432.4 C784.48,431.97 787.05,432.17 789,432.4 C790.95,432.63 792.28,432.4 793.9,433.8 C795.52,435.2 796.92,438.98 798.7,440.8 C800.48,442.62 802.32,443.5 804.6,444.7 C806.88,445.9 809.97,446.7 812.4,448 C814.83,449.3 817.42,451.48 819.2,452.5 C820.98,453.52 821.48,453.78 823.1,454.1 C824.72,454.42 827.28,455.08 828.9,454.4 C830.52,453.72 831.4,451.12 832.8,450 C834.2,448.88 836.55,448.08 837.3,447.7" fill="none" stroke="#e3c63a" stroke-width="1.6"/>
</g>
<rect x="0" y="403.6" width="1221" height="1.3" fill="#b2b5be"/>
<text x="2.7" y="15.1" font-size="12" fill="#e0e3eb" stroke="#e0e3eb" stroke-width="0.3" font-weight="normal" textLength="88.5" lengthAdjust="spacingAndGlyphs">US 100 Cash CFD</text>
<text x="95.8" y="15.1" font-size="12" fill="#e0e3eb" stroke="#e0e3eb" stroke-width="0.3" font-weight="normal">·</text>
<text x="103.5" y="15.1" font-size="12" fill="#e0e3eb" stroke="#e0e3eb" stroke-width="0.3" font-weight="normal" textLength="13.1" lengthAdjust="spacingAndGlyphs">1D</text>
<text x="119.5" y="15.1" font-size="12" fill="#e0e3eb" stroke="#e0e3eb" stroke-width="0.3" font-weight="normal">·</text>
<rect x="124.1" y="0" width="71.6" height="15.8" fill="#1f1f1f"/>
<rect x="141.9" y="0" width="53.8" height="17.8" fill="#1f1f1f"/>
<text x="196.9" y="15.1" font-size="12" fill="#e0e3eb" stroke="#e0e3eb" stroke-width="0.3" font-weight="normal" textLength="7.4" lengthAdjust="spacingAndGlyphs">O</text>
<text x="204.9" y="15.1" font-size="12" fill="#4caf50" stroke="#4caf50" stroke-width="0.3" font-weight="normal" textLength="46.5" lengthAdjust="spacingAndGlyphs">25,849.8</text>
<text x="258.8" y="15.1" font-size="12" fill="#e0e3eb" stroke="#e0e3eb" stroke-width="0.3" font-weight="normal" textLength="6.9" lengthAdjust="spacingAndGlyphs">H</text>
<text x="266.6" y="15.1" font-size="12" fill="#4caf50" stroke="#4caf50" stroke-width="0.3" font-weight="normal" textLength="46.1" lengthAdjust="spacingAndGlyphs">25,991.7</text>
<text x="320.4" y="15.1" font-size="12" fill="#e0e3eb" stroke="#e0e3eb" stroke-width="0.3" font-weight="normal" textLength="5.8" lengthAdjust="spacingAndGlyphs">L</text>
<text x="326.7" y="15.1" font-size="12" fill="#4caf50" stroke="#4caf50" stroke-width="0.3" font-weight="normal" textLength="45.9" lengthAdjust="spacingAndGlyphs">25,849.8</text>
<text x="380.4" y="15.1" font-size="12" fill="#e0e3eb" stroke="#e0e3eb" stroke-width="0.3" font-weight="normal" textLength="6.4" lengthAdjust="spacingAndGlyphs">C</text>
<text x="387.2" y="15.1" font-size="12" fill="#4caf50" stroke="#4caf50" stroke-width="0.3" font-weight="normal" textLength="46.5" lengthAdjust="spacingAndGlyphs">25,897.3</text>
<text x="441.4" y="15.1" font-size="12" fill="#4caf50" stroke="#4caf50" stroke-width="0.3" font-weight="normal" textLength="29.3" lengthAdjust="spacingAndGlyphs">+47.5</text>
<text x="475" y="15.1" font-size="12" fill="#4caf50" stroke="#4caf50" stroke-width="0.3" font-weight="normal" textLength="44.7" lengthAdjust="spacingAndGlyphs">(+0.18%)</text>
<text x="2.4" y="31.7" font-size="12" fill="#e0e3eb" stroke="#e0e3eb" stroke-width="0.3" font-weight="normal" textLength="81.5" lengthAdjust="spacingAndGlyphs">SMA (50, close)</text>
<text x="91.7" y="31.7" font-size="12" fill="#a3a6af" stroke="#a3a6af" stroke-width="0.3" font-weight="normal" textLength="45.9" lengthAdjust="spacingAndGlyphs">24,568.2</text>
<text x="2.5" y="48.5" font-size="12" fill="#e0e3eb" stroke="#e0e3eb" stroke-width="0.3" font-weight="normal" textLength="87.5" lengthAdjust="spacingAndGlyphs">SMA (200, close)</text>
<text x="98" y="48.5" font-size="12" fill="#4dd0e1" stroke="#4dd0e1" stroke-width="0.3" font-weight="normal" textLength="45.8" lengthAdjust="spacingAndGlyphs">22,087.2</text>
<text x="2.5" y="424.8" font-size="12" fill="#e0e3eb" stroke="#e0e3eb" stroke-width="0.3" font-weight="normal" textLength="75.5" lengthAdjust="spacingAndGlyphs">RSI (14, close)</text>
<text x="86.4" y="424.8" font-size="12" fill="#7e57c2" stroke="#7e57c2" stroke-width="0.3" font-weight="normal" textLength="28.9" lengthAdjust="spacingAndGlyphs">64.66</text>
<text x="122.6" y="424.8" font-size="12" fill="#fdd835" stroke="#fdd835" stroke-width="0.3" font-weight="normal" textLength="29.2" lengthAdjust="spacingAndGlyphs">61.33</text>
<text x="1167.5" y="30.36" font-size="12" fill="#e1e3e8" stroke="#e1e3e8" stroke-width="0.3" text-anchor="start" font-weight="normal">27,000.0</text>
<text x="1167.5" y="62.97" font-size="12" fill="#e1e3e8" stroke="#e1e3e8" stroke-width="0.3" text-anchor="start" font-weight="normal">26,000.0</text>
<text x="1167.5" y="96.58" font-size="12" fill="#e1e3e8" stroke="#e1e3e8" stroke-width="0.3" text-anchor="start" font-weight="normal">25,000.0</text>
<text x="1167.5" y="130.19" font-size="12" fill="#e1e3e8" stroke="#e1e3e8" stroke-width="0.3" text-anchor="start" font-weight="normal">24,000.0</text>
<text x="1167.5" y="163.8" font-size="12" fill="#e1e3e8" stroke="#e1e3e8" stroke-width="0.3" text-anchor="start" font-weight="normal">23,000.0</text>
<text x="1167.5" y="197.41" font-size="12" fill="#e1e3e8" stroke="#e1e3e8" stroke-width="0.3" text-anchor="start" font-weight="normal">22,000.0</text>
<text x="1167.5" y="231.02" font-size="12" fill="#e1e3e8" stroke="#e1e3e8" stroke-width="0.3" text-anchor="start" font-weight="normal">21,000.0</text>
<text x="1167.5" y="264.63" font-size="12" fill="#e1e3e8" stroke="#e1e3e8" stroke-width="0.3" text-anchor="start" font-weight="normal">20,000.0</text>
<text x="1167.5" y="298.24" font-size="12" fill="#e1e3e8" stroke="#e1e3e8" stroke-width="0.3" text-anchor="start" font-weight="normal">19,000.0</text>
<text x="1167.5" y="331.85" font-size="12" fill="#e1e3e8" stroke="#e1e3e8" stroke-width="0.3" text-anchor="start" font-weight="normal">18,000.0</text>
<text x="1167.5" y="365.46" font-size="12" fill="#e1e3e8" stroke="#e1e3e8" stroke-width="0.3" text-anchor="start" font-weight="normal">17,000.0</text>
<text x="1167.5" y="399.07" font-size="12" fill="#e1e3e8" stroke="#e1e3e8" stroke-width="0.3" text-anchor="start" font-weight="normal">16,000.0</text>
<text x="1167.5" y="413.7" font-size="12" fill="#d1d4dc" stroke="#d1d4dc" stroke-width="0.3" text-anchor="start" font-weight="normal">80.00</text>
<text x="1167.5" y="495.6" font-size="12" fill="#d1d4dc" stroke="#d1d4dc" stroke-width="0.3" text-anchor="start" font-weight="normal">40.00</text>
<text x="1167.5" y="536.5" font-size="12" fill="#d1d4dc" stroke="#d1d4dc" stroke-width="0.3" text-anchor="start" font-weight="normal">20.00</text>
<rect x="1159" y="0" width="62" height="28.4" fill="#131722"/>
<rect x="1162" y="-4" width="58" height="28.8" rx="5" fill="#121212" stroke="#2e2e2e" stroke-width="1"/>
<text x="1170.9" y="16" font-size="12" fill="#d1d4dc" stroke="#d1d4dc" stroke-width="0.3" text-anchor="start" font-weight="normal" textLength="21.3" lengthAdjust="spacingAndGlyphs">USD</text>
<rect x="1158.8" y="34.8" width="61" height="17" rx="2" fill="#4caf50"/>
<text x="1167.8" y="47" font-size="12" fill="#ffffff" stroke="#ffffff" stroke-width="0.3" text-anchor="start" font-weight="normal">26,500.0</text>
<clipPath id="stk1"><rect x="1158.8" y="55" width="61" height="81.4" rx="2"/></clipPath>
<clipPath id="stk2"><rect x="1158.8" y="433" width="43" height="32.7" rx="2"/></clipPath>
<rect x="1158.8" y="55" width="61" height="31.4" rx="0" fill="#4caf50" clip-path="url(#stk1)"/>
<text x="1167.8" y="66.7" font-size="12" fill="#ffffff" stroke="#ffffff" stroke-width="0.3" text-anchor="start" font-weight="normal">25,897.3</text>
<text x="1167.8" y="81.6" font-size="12" fill="#dff0df" stroke="#dff0df" stroke-width="0.3" text-anchor="start" font-weight="normal">14:47:51</text>
<rect x="1158.8" y="86.2" width="61" height="16.9" rx="0" fill="#2962ff" clip-path="url(#stk1)"/>
<text x="1167.8" y="98.1" font-size="12" fill="#ffffff" stroke="#ffffff" stroke-width="0.3" text-anchor="start" font-weight="normal">25,244.3</text>
<rect x="1158.8" y="102.9" width="61" height="17.2" rx="0" fill="#c1c1c1" clip-path="url(#stk1)"/>
<text x="1167.8" y="115.1" font-size="12" fill="#131722" stroke="#131722" stroke-width="0.3" text-anchor="start" font-weight="normal">24,568.2</text>
<rect x="1158.8" y="119.9" width="61" height="16.5" rx="0" fill="#2962ff" clip-path="url(#stk1)"/>
<text x="1167.8" y="132.2" font-size="12" fill="#ffffff" stroke="#ffffff" stroke-width="0.3" text-anchor="start" font-weight="normal">23,967.1</text>
<rect x="1158.8" y="183.1" width="61" height="16.6" rx="2" fill="#4dd0e1"/>
<text x="1167.8" y="194.8" font-size="12" fill="#131722" stroke="#131722" stroke-width="0.3" text-anchor="start" font-weight="normal">22,087.2</text>
<rect x="1158.8" y="433" width="43" height="16.6" rx="0" fill="#7e57c2" clip-path="url(#stk2)"/>
<text x="1167.8" y="445.3" font-size="12" fill="#ffffff" stroke="#ffffff" stroke-width="0.3" text-anchor="start" font-weight="normal">64.66</text>
<rect x="1158.8" y="449.4" width="43" height="16.3" rx="0" fill="#fdd835" clip-path="url(#stk2)"/>
<text x="1167.8" y="461.6" font-size="12" fill="#131722" stroke="#131722" stroke-width="0.3" text-anchor="start" font-weight="normal">61.33</text>
<clipPath id="tc"><rect x="0" y="540" width="1158.5" height="24"/></clipPath>
<g clip-path="url(#tc)">
<text x="26" y="557.5" font-size="12" fill="#d1d4dc" stroke="#d1d4dc" stroke-width="0.3" text-anchor="middle" font-weight="normal" textLength="19.7" lengthAdjust="spacingAndGlyphs">Aug</text>
<text x="80.9" y="557.5" font-size="12" fill="#d1d4dc" stroke="#d1d4dc" stroke-width="0.3" text-anchor="middle" font-weight="normal" textLength="19.1" lengthAdjust="spacingAndGlyphs">Sep</text>
<text x="133" y="557.5" font-size="12" fill="#d1d4dc" stroke="#d1d4dc" stroke-width="0.3" text-anchor="middle" font-weight="normal" textLength="18.6" lengthAdjust="spacingAndGlyphs">Oct</text>
<text x="191" y="557.5" font-size="12" fill="#d1d4dc" stroke="#d1d4dc" stroke-width="0.3" text-anchor="middle" font-weight="normal" textLength="20.2" lengthAdjust="spacingAndGlyphs">Nov</text>
<text x="243" y="557.5" font-size="12" fill="#d1d4dc" stroke="#d1d4dc" stroke-width="0.3" text-anchor="middle" font-weight="normal" textLength="19.7" lengthAdjust="spacingAndGlyphs">Dec</text>
<text x="295.5" y="557.5" font-size="12" fill="#eceef2" stroke="#eceef2" stroke-width="0.3" text-anchor="middle" font-weight="bold" textLength="27.5" lengthAdjust="spacingAndGlyphs">2025</text>
<text x="399.7" y="557.5" font-size="12" fill="#d1d4dc" stroke="#d1d4dc" stroke-width="0.3" text-anchor="middle" font-weight="normal" textLength="19.7" lengthAdjust="spacingAndGlyphs">Mar</text>
<text x="452.3" y="557.5" font-size="12" fill="#d1d4dc" stroke="#d1d4dc" stroke-width="0.3" text-anchor="middle" font-weight="normal" textLength="18.9" lengthAdjust="spacingAndGlyphs">Apr</text>
<text x="507.5" y="557.5" font-size="12" fill="#d1d4dc" stroke="#d1d4dc" stroke-width="0.3" text-anchor="middle" font-weight="normal" textLength="21.7" lengthAdjust="spacingAndGlyphs">May</text>
<text x="562.8" y="557.5" font-size="12" fill="#d1d4dc" stroke="#d1d4dc" stroke-width="0.3" text-anchor="middle" font-weight="normal" textLength="19.6" lengthAdjust="spacingAndGlyphs">Jun</text>
<text x="614.8" y="557.5" font-size="12" fill="#d1d4dc" stroke="#d1d4dc" stroke-width="0.3" text-anchor="middle" font-weight="normal" textLength="16.1" lengthAdjust="spacingAndGlyphs">Jul</text>
<text x="672.4" y="557.5" font-size="12" fill="#d1d4dc" stroke="#d1d4dc" stroke-width="0.3" text-anchor="middle" font-weight="normal" textLength="20.5" lengthAdjust="spacingAndGlyphs">Aug</text>
<text x="724.3" y="557.5" font-size="12" fill="#d1d4dc" stroke="#d1d4dc" stroke-width="0.3" text-anchor="middle" font-weight="normal" textLength="20.5" lengthAdjust="spacingAndGlyphs">Sep</text>
<text x="779" y="557.5" font-size="12" fill="#d1d4dc" stroke="#d1d4dc" stroke-width="0.3" text-anchor="middle" font-weight="normal" textLength="19.6" lengthAdjust="spacingAndGlyphs">Oct</text>
<text x="837" y="557.5" font-size="12" fill="#d1d4dc" stroke="#d1d4dc" stroke-width="0.3" text-anchor="middle" font-weight="normal" textLength="21.6" lengthAdjust="spacingAndGlyphs">Nov</text>
<text x="944.3" y="557.5" font-size="12" fill="#eceef2" stroke="#eceef2" stroke-width="0.3" text-anchor="middle" font-weight="bold" textLength="27.8" lengthAdjust="spacingAndGlyphs">2026</text>
<text x="1048.8" y="557.5" font-size="12" fill="#d1d4dc" stroke="#d1d4dc" stroke-width="0.3" text-anchor="middle" font-weight="normal" textLength="19.8" lengthAdjust="spacingAndGlyphs">Mar</text>
<text x="1103.7" y="557.5" font-size="12" fill="#d1d4dc" stroke="#d1d4dc" stroke-width="0.3" text-anchor="middle" font-weight="normal" textLength="18.3" lengthAdjust="spacingAndGlyphs">Apr</text>
<text x="1158.2" y="557.5" font-size="12" fill="#d1d4dc" stroke="#d1d4dc" stroke-width="0.3" text-anchor="middle" font-weight="normal" textLength="21.7" lengthAdjust="spacingAndGlyphs">May</text>
</g>
</svg></body></html>
